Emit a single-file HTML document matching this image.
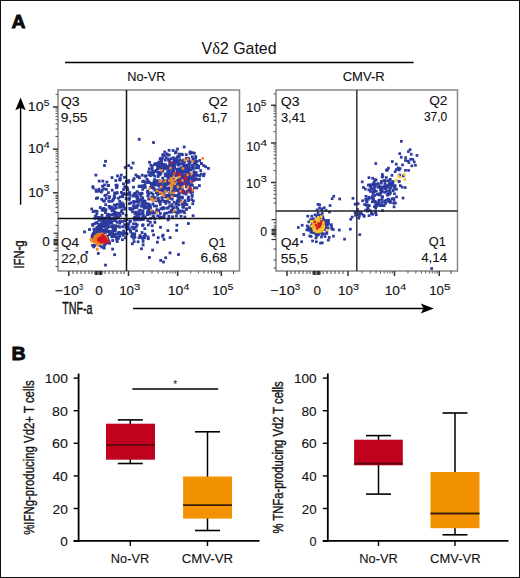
<!DOCTYPE html>
<html><head><meta charset="utf-8"><style>
html,body{margin:0;padding:0;background:#fff;}
body{width:520px;height:578px;overflow:hidden;position:relative;}
#f{position:absolute;left:0;top:0;width:520px;height:578px;box-sizing:border-box;border:1px solid #111;}
svg{position:absolute;left:0;top:0;}
svg text{font-family:"Liberation Sans", sans-serif;fill:#111;}
</style></head><body>
<div id="f"></div>
<svg width="520" height="578" viewBox="0 0 520 578">
<g><rect x="176.6" y="195.3" width="2.8" height="2.8" fill="#2c3a9e"/><rect x="188.7" y="152.0" width="2.8" height="2.8" fill="#2c3a9e"/><rect x="196.5" y="166.1" width="2.8" height="2.8" fill="#2c3a9e"/><rect x="190.4" y="198.2" width="2.8" height="2.8" fill="#2c3a9e"/><rect x="150.8" y="167.4" width="2.8" height="2.8" fill="#2c3a9e"/><rect x="148.9" y="207.8" width="2.8" height="2.8" fill="#2c3a9e"/><rect x="162.2" y="191.2" width="2.8" height="2.8" fill="#2c3a9e"/><rect x="167.0" y="171.5" width="2.8" height="2.8" fill="#2c3a9e"/><rect x="170.9" y="172.0" width="2.8" height="2.8" fill="#2c3a9e"/><rect x="176.4" y="170.9" width="2.8" height="2.8" fill="#2c3a9e"/><rect x="175.6" y="211.7" width="2.8" height="2.8" fill="#2c3a9e"/><rect x="163.9" y="172.9" width="2.8" height="2.8" fill="#2c3a9e"/><rect x="176.9" y="196.5" width="2.8" height="2.8" fill="#2c3a9e"/><rect x="167.7" y="148.9" width="2.8" height="2.8" fill="#2c3a9e"/><rect x="166.3" y="175.7" width="2.8" height="2.8" fill="#2c3a9e"/><rect x="146.4" y="194.6" width="2.8" height="2.8" fill="#2c3a9e"/><rect x="142.0" y="179.7" width="2.8" height="2.8" fill="#2c3a9e"/><rect x="182.0" y="158.7" width="2.8" height="2.8" fill="#2c3a9e"/><rect x="156.2" y="180.9" width="2.8" height="2.8" fill="#2c3a9e"/><rect x="193.0" y="186.4" width="2.8" height="2.8" fill="#2c3a9e"/><rect x="167.4" y="158.9" width="2.8" height="2.8" fill="#2c3a9e"/><rect x="194.4" y="159.6" width="2.8" height="2.8" fill="#2c3a9e"/><rect x="177.8" y="176.8" width="2.8" height="2.8" fill="#2c3a9e"/><rect x="185.9" y="169.3" width="2.8" height="2.8" fill="#2c3a9e"/><rect x="169.9" y="209.0" width="2.8" height="2.8" fill="#2c3a9e"/><rect x="155.5" y="208.2" width="2.8" height="2.8" fill="#2c3a9e"/><rect x="174.5" y="186.3" width="2.8" height="2.8" fill="#2c3a9e"/><rect x="157.6" y="165.0" width="2.8" height="2.8" fill="#2c3a9e"/><rect x="152.4" y="187.0" width="2.8" height="2.8" fill="#2c3a9e"/><rect x="157.0" y="209.5" width="2.8" height="2.8" fill="#2c3a9e"/><rect x="175.0" y="214.6" width="2.8" height="2.8" fill="#2c3a9e"/><rect x="177.6" y="167.5" width="2.8" height="2.8" fill="#2c3a9e"/><rect x="180.7" y="196.2" width="2.8" height="2.8" fill="#2c3a9e"/><rect x="138.7" y="212.3" width="2.8" height="2.8" fill="#2c3a9e"/><rect x="161.8" y="207.5" width="2.8" height="2.8" fill="#2c3a9e"/><rect x="145.8" y="212.6" width="2.8" height="2.8" fill="#2c3a9e"/><rect x="158.8" y="182.7" width="2.8" height="2.8" fill="#2c3a9e"/><rect x="134.3" y="211.0" width="2.8" height="2.8" fill="#2c3a9e"/><rect x="180.3" y="182.1" width="2.8" height="2.8" fill="#2c3a9e"/><rect x="150.6" y="170.4" width="2.8" height="2.8" fill="#2c3a9e"/><rect x="194.2" y="156.8" width="2.8" height="2.8" fill="#2c3a9e"/><rect x="202.2" y="174.3" width="2.8" height="2.8" fill="#2c3a9e"/><rect x="170.8" y="197.8" width="2.8" height="2.8" fill="#2c3a9e"/><rect x="172.2" y="210.2" width="2.8" height="2.8" fill="#2c3a9e"/><rect x="156.7" y="165.7" width="2.8" height="2.8" fill="#2c3a9e"/><rect x="170.4" y="162.0" width="2.8" height="2.8" fill="#2c3a9e"/><rect x="152.4" y="215.3" width="2.8" height="2.8" fill="#2c3a9e"/><rect x="156.4" y="188.3" width="2.8" height="2.8" fill="#2c3a9e"/><rect x="136.4" y="213.6" width="2.8" height="2.8" fill="#2c3a9e"/><rect x="179.2" y="184.6" width="2.8" height="2.8" fill="#2c3a9e"/><rect x="160.9" y="156.5" width="2.8" height="2.8" fill="#2c3a9e"/><rect x="168.5" y="160.9" width="2.8" height="2.8" fill="#2c3a9e"/><rect x="196.4" y="173.9" width="2.8" height="2.8" fill="#2c3a9e"/><rect x="154.1" y="170.1" width="2.8" height="2.8" fill="#2c3a9e"/><rect x="181.3" y="176.1" width="2.8" height="2.8" fill="#2c3a9e"/><rect x="155.0" y="179.5" width="2.8" height="2.8" fill="#2c3a9e"/><rect x="168.1" y="166.6" width="2.8" height="2.8" fill="#2c3a9e"/><rect x="187.8" y="174.3" width="2.8" height="2.8" fill="#2c3a9e"/><rect x="186.8" y="159.4" width="2.8" height="2.8" fill="#2c3a9e"/><rect x="160.1" y="180.3" width="2.8" height="2.8" fill="#2c3a9e"/><rect x="176.9" y="211.5" width="2.8" height="2.8" fill="#2c3a9e"/><rect x="167.6" y="197.1" width="2.8" height="2.8" fill="#2c3a9e"/><rect x="142.5" y="199.5" width="2.8" height="2.8" fill="#2c3a9e"/><rect x="155.7" y="164.0" width="2.8" height="2.8" fill="#2c3a9e"/><rect x="153.8" y="196.2" width="2.8" height="2.8" fill="#2c3a9e"/><rect x="148.3" y="203.4" width="2.8" height="2.8" fill="#2c3a9e"/><rect x="162.2" y="153.9" width="2.8" height="2.8" fill="#2c3a9e"/><rect x="167.8" y="210.7" width="2.8" height="2.8" fill="#2c3a9e"/><rect x="198.3" y="159.1" width="2.8" height="2.8" fill="#2c3a9e"/><rect x="186.0" y="165.0" width="2.8" height="2.8" fill="#2c3a9e"/><rect x="173.1" y="180.6" width="2.8" height="2.8" fill="#2c3a9e"/><rect x="160.7" y="157.4" width="2.8" height="2.8" fill="#2c3a9e"/><rect x="159.5" y="171.1" width="2.8" height="2.8" fill="#2c3a9e"/><rect x="161.0" y="198.5" width="2.8" height="2.8" fill="#2c3a9e"/><rect x="168.2" y="163.3" width="2.8" height="2.8" fill="#2c3a9e"/><rect x="146.7" y="202.4" width="2.8" height="2.8" fill="#2c3a9e"/><rect x="177.0" y="189.7" width="2.8" height="2.8" fill="#2c3a9e"/><rect x="204.3" y="165.4" width="2.8" height="2.8" fill="#2c3a9e"/><rect x="153.2" y="178.3" width="2.8" height="2.8" fill="#2c3a9e"/><rect x="158.5" y="185.0" width="2.8" height="2.8" fill="#2c3a9e"/><rect x="142.8" y="185.0" width="2.8" height="2.8" fill="#2c3a9e"/><rect x="199.8" y="172.7" width="2.8" height="2.8" fill="#2c3a9e"/><rect x="164.9" y="179.8" width="2.8" height="2.8" fill="#2c3a9e"/><rect x="174.2" y="159.7" width="2.8" height="2.8" fill="#2c3a9e"/><rect x="163.9" y="186.6" width="2.8" height="2.8" fill="#2c3a9e"/><rect x="176.8" y="172.3" width="2.8" height="2.8" fill="#2c3a9e"/><rect x="141.3" y="215.7" width="2.8" height="2.8" fill="#2c3a9e"/><rect x="159.5" y="158.5" width="2.8" height="2.8" fill="#2c3a9e"/><rect x="187.7" y="177.0" width="2.8" height="2.8" fill="#2c3a9e"/><rect x="191.8" y="173.5" width="2.8" height="2.8" fill="#2c3a9e"/><rect x="185.0" y="157.0" width="2.8" height="2.8" fill="#2c3a9e"/><rect x="135.7" y="196.5" width="2.8" height="2.8" fill="#2c3a9e"/><rect x="199.9" y="162.0" width="2.8" height="2.8" fill="#2c3a9e"/><rect x="146.8" y="179.5" width="2.8" height="2.8" fill="#2c3a9e"/><rect x="146.5" y="210.9" width="2.8" height="2.8" fill="#2c3a9e"/><rect x="172.0" y="165.1" width="2.8" height="2.8" fill="#2c3a9e"/><rect x="151.4" y="195.6" width="2.8" height="2.8" fill="#2c3a9e"/><rect x="169.7" y="210.8" width="2.8" height="2.8" fill="#2c3a9e"/><rect x="191.5" y="159.3" width="2.8" height="2.8" fill="#2c3a9e"/><rect x="179.2" y="199.9" width="2.8" height="2.8" fill="#2c3a9e"/><rect x="175.5" y="156.5" width="2.8" height="2.8" fill="#2c3a9e"/><rect x="141.9" y="214.1" width="2.8" height="2.8" fill="#2c3a9e"/><rect x="172.6" y="159.7" width="2.8" height="2.8" fill="#2c3a9e"/><rect x="153.7" y="183.5" width="2.8" height="2.8" fill="#2c3a9e"/><rect x="152.0" y="181.9" width="2.8" height="2.8" fill="#2c3a9e"/><rect x="135.6" y="206.1" width="2.8" height="2.8" fill="#2c3a9e"/><rect x="176.7" y="180.6" width="2.8" height="2.8" fill="#2c3a9e"/><rect x="190.4" y="183.4" width="2.8" height="2.8" fill="#2c3a9e"/><rect x="151.7" y="182.6" width="2.8" height="2.8" fill="#2c3a9e"/><rect x="190.4" y="176.1" width="2.8" height="2.8" fill="#2c3a9e"/><rect x="187.9" y="167.2" width="2.8" height="2.8" fill="#2c3a9e"/><rect x="197.2" y="164.8" width="2.8" height="2.8" fill="#2c3a9e"/><rect x="172.5" y="206.2" width="2.8" height="2.8" fill="#2c3a9e"/><rect x="177.7" y="152.7" width="2.8" height="2.8" fill="#2c3a9e"/><rect x="175.3" y="160.0" width="2.8" height="2.8" fill="#2c3a9e"/><rect x="179.5" y="168.6" width="2.8" height="2.8" fill="#2c3a9e"/><rect x="177.2" y="162.8" width="2.8" height="2.8" fill="#2c3a9e"/><rect x="192.5" y="173.5" width="2.8" height="2.8" fill="#2c3a9e"/><rect x="190.9" y="183.8" width="2.8" height="2.8" fill="#2c3a9e"/><rect x="152.8" y="197.5" width="2.8" height="2.8" fill="#2c3a9e"/><rect x="198.0" y="178.0" width="2.8" height="2.8" fill="#2c3a9e"/><rect x="178.7" y="162.7" width="2.8" height="2.8" fill="#2c3a9e"/><rect x="171.7" y="149.1" width="2.8" height="2.8" fill="#2c3a9e"/><rect x="156.9" y="196.6" width="2.8" height="2.8" fill="#2c3a9e"/><rect x="146.8" y="190.8" width="2.8" height="2.8" fill="#2c3a9e"/><rect x="163.1" y="165.9" width="2.8" height="2.8" fill="#2c3a9e"/><rect x="157.0" y="191.3" width="2.8" height="2.8" fill="#2c3a9e"/><rect x="179.6" y="214.9" width="2.8" height="2.8" fill="#2c3a9e"/><rect x="193.0" y="151.8" width="2.8" height="2.8" fill="#2c3a9e"/><rect x="156.7" y="175.1" width="2.8" height="2.8" fill="#2c3a9e"/><rect x="156.3" y="214.4" width="2.8" height="2.8" fill="#2c3a9e"/><rect x="143.8" y="215.9" width="2.8" height="2.8" fill="#2c3a9e"/><rect x="146.4" y="209.8" width="2.8" height="2.8" fill="#2c3a9e"/><rect x="187.7" y="159.9" width="2.8" height="2.8" fill="#2c3a9e"/><rect x="148.1" y="173.2" width="2.8" height="2.8" fill="#2c3a9e"/><rect x="151.1" y="210.9" width="2.8" height="2.8" fill="#2c3a9e"/><rect x="176.2" y="169.7" width="2.8" height="2.8" fill="#2c3a9e"/><rect x="141.6" y="211.4" width="2.8" height="2.8" fill="#2c3a9e"/><rect x="156.6" y="171.7" width="2.8" height="2.8" fill="#2c3a9e"/><rect x="183.5" y="215.6" width="2.8" height="2.8" fill="#2c3a9e"/><rect x="184.8" y="171.4" width="2.8" height="2.8" fill="#2c3a9e"/><rect x="188.7" y="150.5" width="2.8" height="2.8" fill="#2c3a9e"/><rect x="180.5" y="196.8" width="2.8" height="2.8" fill="#2c3a9e"/><rect x="156.3" y="162.2" width="2.8" height="2.8" fill="#2c3a9e"/><rect x="168.1" y="168.3" width="2.8" height="2.8" fill="#2c3a9e"/><rect x="186.5" y="171.0" width="2.8" height="2.8" fill="#2c3a9e"/><rect x="141.3" y="180.2" width="2.8" height="2.8" fill="#2c3a9e"/><rect x="184.3" y="167.2" width="2.8" height="2.8" fill="#2c3a9e"/><rect x="177.9" y="191.0" width="2.8" height="2.8" fill="#2c3a9e"/><rect x="141.4" y="188.0" width="2.8" height="2.8" fill="#2c3a9e"/><rect x="187.2" y="168.1" width="2.8" height="2.8" fill="#2c3a9e"/><rect x="184.3" y="174.3" width="2.8" height="2.8" fill="#2c3a9e"/><rect x="162.2" y="162.9" width="2.8" height="2.8" fill="#2c3a9e"/><rect x="156.9" y="167.0" width="2.8" height="2.8" fill="#2c3a9e"/><rect x="160.2" y="157.7" width="2.8" height="2.8" fill="#2c3a9e"/><rect x="170.0" y="172.4" width="2.8" height="2.8" fill="#2c3a9e"/><rect x="157.6" y="199.1" width="2.8" height="2.8" fill="#2c3a9e"/><rect x="170.4" y="182.8" width="2.8" height="2.8" fill="#2c3a9e"/><rect x="184.3" y="166.1" width="2.8" height="2.8" fill="#2c3a9e"/><rect x="157.1" y="171.6" width="2.8" height="2.8" fill="#2c3a9e"/><rect x="157.6" y="189.9" width="2.8" height="2.8" fill="#2c3a9e"/><rect x="187.4" y="167.4" width="2.8" height="2.8" fill="#2c3a9e"/><rect x="183.6" y="202.3" width="2.8" height="2.8" fill="#2c3a9e"/><rect x="133.9" y="200.5" width="2.8" height="2.8" fill="#2c3a9e"/><rect x="172.6" y="160.7" width="2.8" height="2.8" fill="#2c3a9e"/><rect x="186.6" y="178.7" width="2.8" height="2.8" fill="#2c3a9e"/><rect x="141.8" y="201.2" width="2.8" height="2.8" fill="#2c3a9e"/><rect x="164.5" y="167.0" width="2.8" height="2.8" fill="#2c3a9e"/><rect x="151.7" y="215.1" width="2.8" height="2.8" fill="#2c3a9e"/><rect x="151.6" y="202.5" width="2.8" height="2.8" fill="#2c3a9e"/><rect x="184.2" y="170.2" width="2.8" height="2.8" fill="#2c3a9e"/><rect x="163.0" y="180.6" width="2.8" height="2.8" fill="#2c3a9e"/><rect x="131.1" y="210.4" width="2.8" height="2.8" fill="#2c3a9e"/><rect x="146.3" y="181.1" width="2.8" height="2.8" fill="#2c3a9e"/><rect x="158.1" y="215.3" width="2.8" height="2.8" fill="#2c3a9e"/><rect x="144.8" y="174.4" width="2.8" height="2.8" fill="#2c3a9e"/><rect x="136.6" y="203.6" width="2.8" height="2.8" fill="#2c3a9e"/><rect x="166.9" y="170.1" width="2.8" height="2.8" fill="#2c3a9e"/><rect x="140.7" y="192.1" width="2.8" height="2.8" fill="#2c3a9e"/><rect x="195.4" y="186.5" width="2.8" height="2.8" fill="#2c3a9e"/><rect x="165.3" y="152.5" width="2.8" height="2.8" fill="#2c3a9e"/><rect x="149.2" y="186.1" width="2.8" height="2.8" fill="#2c3a9e"/><rect x="167.9" y="153.7" width="2.8" height="2.8" fill="#2c3a9e"/><rect x="176.9" y="209.2" width="2.8" height="2.8" fill="#2c3a9e"/><rect x="169.5" y="178.2" width="2.8" height="2.8" fill="#2c3a9e"/><rect x="158.2" y="200.7" width="2.8" height="2.8" fill="#2c3a9e"/><rect x="137.5" y="209.4" width="2.8" height="2.8" fill="#2c3a9e"/><rect x="135.7" y="199.1" width="2.8" height="2.8" fill="#2c3a9e"/><rect x="145.1" y="206.4" width="2.8" height="2.8" fill="#2c3a9e"/><rect x="167.1" y="176.4" width="2.8" height="2.8" fill="#2c3a9e"/><rect x="166.4" y="170.3" width="2.8" height="2.8" fill="#2c3a9e"/><rect x="151.8" y="170.1" width="2.8" height="2.8" fill="#2c3a9e"/><rect x="131.9" y="204.8" width="2.8" height="2.8" fill="#2c3a9e"/><rect x="145.5" y="177.8" width="2.8" height="2.8" fill="#2c3a9e"/><rect x="163.8" y="189.1" width="2.8" height="2.8" fill="#2c3a9e"/><rect x="197.1" y="166.4" width="2.8" height="2.8" fill="#2c3a9e"/><rect x="187.5" y="172.4" width="2.8" height="2.8" fill="#2c3a9e"/><rect x="187.5" y="181.2" width="2.8" height="2.8" fill="#2c3a9e"/><rect x="183.2" y="191.3" width="2.8" height="2.8" fill="#2c3a9e"/><rect x="194.6" y="177.4" width="2.8" height="2.8" fill="#2c3a9e"/><rect x="181.1" y="188.2" width="2.8" height="2.8" fill="#2c3a9e"/><rect x="150.7" y="165.0" width="2.8" height="2.8" fill="#2c3a9e"/><rect x="140.0" y="185.1" width="2.8" height="2.8" fill="#2c3a9e"/><rect x="187.1" y="198.6" width="2.8" height="2.8" fill="#2c3a9e"/><rect x="174.3" y="183.5" width="2.8" height="2.8" fill="#2c3a9e"/><rect x="153.0" y="163.2" width="2.8" height="2.8" fill="#2c3a9e"/><rect x="139.0" y="208.8" width="2.8" height="2.8" fill="#2c3a9e"/><rect x="167.8" y="194.0" width="2.8" height="2.8" fill="#2c3a9e"/><rect x="172.6" y="185.8" width="2.8" height="2.8" fill="#2c3a9e"/><rect x="149.2" y="216.9" width="2.8" height="2.8" fill="#2c3a9e"/><rect x="190.7" y="194.9" width="2.8" height="2.8" fill="#2c3a9e"/><rect x="182.8" y="191.8" width="2.8" height="2.8" fill="#2c3a9e"/><rect x="178.1" y="174.7" width="2.8" height="2.8" fill="#2c3a9e"/><rect x="161.3" y="188.0" width="2.8" height="2.8" fill="#2c3a9e"/><rect x="159.8" y="216.0" width="2.8" height="2.8" fill="#2c3a9e"/><rect x="182.0" y="209.8" width="2.8" height="2.8" fill="#2c3a9e"/><rect x="153.4" y="217.5" width="2.8" height="2.8" fill="#2c3a9e"/><rect x="143.3" y="205.2" width="2.8" height="2.8" fill="#2c3a9e"/><rect x="170.7" y="180.7" width="2.8" height="2.8" fill="#2c3a9e"/><rect x="184.8" y="181.0" width="2.8" height="2.8" fill="#2c3a9e"/><rect x="164.1" y="166.9" width="2.8" height="2.8" fill="#2c3a9e"/><rect x="159.3" y="182.7" width="2.8" height="2.8" fill="#2c3a9e"/><rect x="168.5" y="165.2" width="2.8" height="2.8" fill="#2c3a9e"/><rect x="171.6" y="167.9" width="2.8" height="2.8" fill="#2c3a9e"/><rect x="171.2" y="187.9" width="2.8" height="2.8" fill="#2c3a9e"/><rect x="162.8" y="214.0" width="2.8" height="2.8" fill="#2c3a9e"/><rect x="177.1" y="163.6" width="2.8" height="2.8" fill="#2c3a9e"/><rect x="170.7" y="203.2" width="2.8" height="2.8" fill="#2c3a9e"/><rect x="174.1" y="174.5" width="2.8" height="2.8" fill="#2c3a9e"/><rect x="144.4" y="205.7" width="2.8" height="2.8" fill="#2c3a9e"/><rect x="142.2" y="215.4" width="2.8" height="2.8" fill="#2c3a9e"/><rect x="142.4" y="216.9" width="2.8" height="2.8" fill="#2c3a9e"/><rect x="162.9" y="153.8" width="2.8" height="2.8" fill="#2c3a9e"/><rect x="186.6" y="156.9" width="2.8" height="2.8" fill="#2c3a9e"/><rect x="170.9" y="168.0" width="2.8" height="2.8" fill="#2c3a9e"/><rect x="191.2" y="190.4" width="2.8" height="2.8" fill="#2c3a9e"/><rect x="163.9" y="183.4" width="2.8" height="2.8" fill="#2c3a9e"/><rect x="176.2" y="155.3" width="2.8" height="2.8" fill="#2c3a9e"/><rect x="180.8" y="202.9" width="2.8" height="2.8" fill="#2c3a9e"/><rect x="177.9" y="155.2" width="2.8" height="2.8" fill="#2c3a9e"/><rect x="159.1" y="164.4" width="2.8" height="2.8" fill="#2c3a9e"/><rect x="171.3" y="207.6" width="2.8" height="2.8" fill="#2c3a9e"/><rect x="158.3" y="216.6" width="2.8" height="2.8" fill="#2c3a9e"/><rect x="157.0" y="183.7" width="2.8" height="2.8" fill="#2c3a9e"/><rect x="163.9" y="173.0" width="2.8" height="2.8" fill="#2c3a9e"/><rect x="187.0" y="179.2" width="2.8" height="2.8" fill="#2c3a9e"/><rect x="166.9" y="157.7" width="2.8" height="2.8" fill="#2c3a9e"/><rect x="153.6" y="183.3" width="2.8" height="2.8" fill="#2c3a9e"/><rect x="192.7" y="162.1" width="2.8" height="2.8" fill="#2c3a9e"/><rect x="194.2" y="174.0" width="2.8" height="2.8" fill="#2c3a9e"/><rect x="162.4" y="181.2" width="2.8" height="2.8" fill="#2c3a9e"/><rect x="183.6" y="199.3" width="2.8" height="2.8" fill="#2c3a9e"/><rect x="173.0" y="194.3" width="2.8" height="2.8" fill="#2c3a9e"/><rect x="171.2" y="215.4" width="2.8" height="2.8" fill="#2c3a9e"/><rect x="179.8" y="179.2" width="2.8" height="2.8" fill="#2c3a9e"/><rect x="173.3" y="166.4" width="2.8" height="2.8" fill="#2c3a9e"/><rect x="160.3" y="185.7" width="2.8" height="2.8" fill="#2c3a9e"/><rect x="150.0" y="191.5" width="2.8" height="2.8" fill="#2c3a9e"/><rect x="150.0" y="184.1" width="2.8" height="2.8" fill="#2c3a9e"/><rect x="161.1" y="206.6" width="2.8" height="2.8" fill="#2c3a9e"/><rect x="154.8" y="210.1" width="2.8" height="2.8" fill="#2c3a9e"/><rect x="156.3" y="162.7" width="2.8" height="2.8" fill="#2c3a9e"/><rect x="173.1" y="157.8" width="2.8" height="2.8" fill="#2c3a9e"/><rect x="202.4" y="164.2" width="2.8" height="2.8" fill="#2c3a9e"/><rect x="148.0" y="167.5" width="2.8" height="2.8" fill="#2c3a9e"/><rect x="166.1" y="199.8" width="2.8" height="2.8" fill="#2c3a9e"/><rect x="181.4" y="205.5" width="2.8" height="2.8" fill="#2c3a9e"/><rect x="151.6" y="211.8" width="2.8" height="2.8" fill="#2c3a9e"/><rect x="166.2" y="153.4" width="2.8" height="2.8" fill="#2c3a9e"/><rect x="160.2" y="162.1" width="2.8" height="2.8" fill="#2c3a9e"/><rect x="164.5" y="201.9" width="2.8" height="2.8" fill="#2c3a9e"/><rect x="188.0" y="188.7" width="2.8" height="2.8" fill="#2c3a9e"/><rect x="163.2" y="185.3" width="2.8" height="2.8" fill="#2c3a9e"/><rect x="156.5" y="199.1" width="2.8" height="2.8" fill="#2c3a9e"/><rect x="170.3" y="193.7" width="2.8" height="2.8" fill="#2c3a9e"/><rect x="183.1" y="159.7" width="2.8" height="2.8" fill="#2c3a9e"/><rect x="188.2" y="206.2" width="2.8" height="2.8" fill="#2c3a9e"/><rect x="185.2" y="207.4" width="2.8" height="2.8" fill="#2c3a9e"/><rect x="162.2" y="215.7" width="2.8" height="2.8" fill="#2c3a9e"/><rect x="146.3" y="191.2" width="2.8" height="2.8" fill="#2c3a9e"/><rect x="178.1" y="187.4" width="2.8" height="2.8" fill="#2c3a9e"/><rect x="156.7" y="209.0" width="2.8" height="2.8" fill="#2c3a9e"/><rect x="177.6" y="193.6" width="2.8" height="2.8" fill="#2c3a9e"/><rect x="147.3" y="197.6" width="2.8" height="2.8" fill="#2c3a9e"/><rect x="164.7" y="156.2" width="2.8" height="2.8" fill="#2c3a9e"/><rect x="168.6" y="192.0" width="2.8" height="2.8" fill="#2c3a9e"/><rect x="177.1" y="172.1" width="2.8" height="2.8" fill="#2c3a9e"/><rect x="149.7" y="182.0" width="2.8" height="2.8" fill="#2c3a9e"/><rect x="147.1" y="204.8" width="2.8" height="2.8" fill="#2c3a9e"/><rect x="183.4" y="168.6" width="2.8" height="2.8" fill="#2c3a9e"/><rect x="142.2" y="184.4" width="2.8" height="2.8" fill="#2c3a9e"/><rect x="188.1" y="175.8" width="2.8" height="2.8" fill="#2c3a9e"/><rect x="165.6" y="206.8" width="2.8" height="2.8" fill="#2c3a9e"/><rect x="179.1" y="210.6" width="2.8" height="2.8" fill="#2c3a9e"/><rect x="188.0" y="188.3" width="2.8" height="2.8" fill="#2c3a9e"/><rect x="186.6" y="172.4" width="2.8" height="2.8" fill="#2c3a9e"/><rect x="154.1" y="162.3" width="2.8" height="2.8" fill="#2c3a9e"/><rect x="161.6" y="169.5" width="2.8" height="2.8" fill="#2c3a9e"/><rect x="165.7" y="211.7" width="2.8" height="2.8" fill="#2c3a9e"/><rect x="161.9" y="206.5" width="2.8" height="2.8" fill="#2c3a9e"/><rect x="177.8" y="197.0" width="2.8" height="2.8" fill="#2c3a9e"/><rect x="140.5" y="202.4" width="2.8" height="2.8" fill="#2c3a9e"/><rect x="149.3" y="197.5" width="2.8" height="2.8" fill="#2c3a9e"/><rect x="163.3" y="150.6" width="2.8" height="2.8" fill="#2c3a9e"/><rect x="148.2" y="204.9" width="2.8" height="2.8" fill="#2c3a9e"/><rect x="190.0" y="183.6" width="2.8" height="2.8" fill="#2c3a9e"/><rect x="141.3" y="196.5" width="2.8" height="2.8" fill="#2c3a9e"/><rect x="176.0" y="202.3" width="2.8" height="2.8" fill="#2c3a9e"/><rect x="159.1" y="192.1" width="2.8" height="2.8" fill="#2c3a9e"/><rect x="160.0" y="159.4" width="2.8" height="2.8" fill="#2c3a9e"/><rect x="191.9" y="199.5" width="2.8" height="2.8" fill="#2c3a9e"/><rect x="180.1" y="152.8" width="2.8" height="2.8" fill="#2c3a9e"/><rect x="179.7" y="195.8" width="2.8" height="2.8" fill="#2c3a9e"/><rect x="174.6" y="203.0" width="2.8" height="2.8" fill="#2c3a9e"/><rect x="188.4" y="173.3" width="2.8" height="2.8" fill="#2c3a9e"/><rect x="143.7" y="174.8" width="2.8" height="2.8" fill="#2c3a9e"/><rect x="175.6" y="201.7" width="2.8" height="2.8" fill="#2c3a9e"/><rect x="179.9" y="209.6" width="2.8" height="2.8" fill="#2c3a9e"/><rect x="180.9" y="195.7" width="2.8" height="2.8" fill="#2c3a9e"/><rect x="172.2" y="166.7" width="2.8" height="2.8" fill="#2c3a9e"/><rect x="167.6" y="182.0" width="2.8" height="2.8" fill="#2c3a9e"/><rect x="182.1" y="205.9" width="2.8" height="2.8" fill="#2c3a9e"/><rect x="187.0" y="198.9" width="2.8" height="2.8" fill="#2c3a9e"/><rect x="137.2" y="198.7" width="2.8" height="2.8" fill="#2c3a9e"/><rect x="150.9" y="183.9" width="2.8" height="2.8" fill="#2c3a9e"/><rect x="181.0" y="153.3" width="2.8" height="2.8" fill="#2c3a9e"/><rect x="158.9" y="203.0" width="2.8" height="2.8" fill="#2c3a9e"/><rect x="189.6" y="189.8" width="2.8" height="2.8" fill="#2c3a9e"/><rect x="146.2" y="189.7" width="2.8" height="2.8" fill="#2c3a9e"/><rect x="181.5" y="170.0" width="2.8" height="2.8" fill="#2c3a9e"/><rect x="143.6" y="183.3" width="2.8" height="2.8" fill="#2c3a9e"/><rect x="148.0" y="181.2" width="2.8" height="2.8" fill="#2c3a9e"/><rect x="148.1" y="160.9" width="2.8" height="2.8" fill="#2c3a9e"/><rect x="182.8" y="145.6" width="2.8" height="2.8" fill="#2c3a9e"/><rect x="191.8" y="157.9" width="2.8" height="2.8" fill="#2c3a9e"/><rect x="136.0" y="212.2" width="2.8" height="2.8" fill="#2c3a9e"/><rect x="167.9" y="200.9" width="2.8" height="2.8" fill="#2c3a9e"/><rect x="170.6" y="179.1" width="2.8" height="2.8" fill="#2c3a9e"/><rect x="148.5" y="212.6" width="2.8" height="2.8" fill="#2c3a9e"/><rect x="187.8" y="184.3" width="2.8" height="2.8" fill="#2c3a9e"/><rect x="175.2" y="194.1" width="2.8" height="2.8" fill="#2c3a9e"/><rect x="151.6" y="173.5" width="2.8" height="2.8" fill="#2c3a9e"/><rect x="163.0" y="193.7" width="2.8" height="2.8" fill="#2c3a9e"/><rect x="150.0" y="171.3" width="2.8" height="2.8" fill="#2c3a9e"/><rect x="187.2" y="164.3" width="2.8" height="2.8" fill="#2c3a9e"/><rect x="177.5" y="199.3" width="2.8" height="2.8" fill="#2c3a9e"/><rect x="185.8" y="169.0" width="2.8" height="2.8" fill="#2c3a9e"/><rect x="156.9" y="189.7" width="2.8" height="2.8" fill="#2c3a9e"/><rect x="184.6" y="164.4" width="2.8" height="2.8" fill="#2c3a9e"/><rect x="182.5" y="203.9" width="2.8" height="2.8" fill="#2c3a9e"/><rect x="157.6" y="173.6" width="2.8" height="2.8" fill="#2c3a9e"/><rect x="183.7" y="201.1" width="2.8" height="2.8" fill="#2c3a9e"/><rect x="143.0" y="202.5" width="2.8" height="2.8" fill="#2c3a9e"/><rect x="185.1" y="170.7" width="2.8" height="2.8" fill="#2c3a9e"/><rect x="148.9" y="210.8" width="2.8" height="2.8" fill="#2c3a9e"/><rect x="164.1" y="174.5" width="2.8" height="2.8" fill="#2c3a9e"/><rect x="162.4" y="215.3" width="2.8" height="2.8" fill="#2c3a9e"/><rect x="149.6" y="196.3" width="2.8" height="2.8" fill="#2c3a9e"/><rect x="151.0" y="210.1" width="2.8" height="2.8" fill="#2c3a9e"/><rect x="144.2" y="202.2" width="2.8" height="2.8" fill="#2c3a9e"/><rect x="131.6" y="207.6" width="2.8" height="2.8" fill="#2c3a9e"/><rect x="185.7" y="189.6" width="2.8" height="2.8" fill="#2c3a9e"/><rect x="167.1" y="171.3" width="2.8" height="2.8" fill="#2c3a9e"/><rect x="136.6" y="203.8" width="2.8" height="2.8" fill="#2c3a9e"/><rect x="164.5" y="172.6" width="2.8" height="2.8" fill="#2c3a9e"/><rect x="191.0" y="151.3" width="2.8" height="2.8" fill="#2c3a9e"/><rect x="174.2" y="194.0" width="2.8" height="2.8" fill="#2c3a9e"/><rect x="156.1" y="167.4" width="2.8" height="2.8" fill="#2c3a9e"/><rect x="164.2" y="199.9" width="2.8" height="2.8" fill="#2c3a9e"/><rect x="162.9" y="199.8" width="2.8" height="2.8" fill="#2c3a9e"/><rect x="152.2" y="186.5" width="2.8" height="2.8" fill="#2c3a9e"/><rect x="158.0" y="173.0" width="2.8" height="2.8" fill="#2c3a9e"/><rect x="138.9" y="212.8" width="2.8" height="2.8" fill="#2c3a9e"/><rect x="133.2" y="215.7" width="2.8" height="2.8" fill="#2c3a9e"/><rect x="172.0" y="156.4" width="2.8" height="2.8" fill="#2c3a9e"/><rect x="173.0" y="165.6" width="2.8" height="2.8" fill="#2c3a9e"/><rect x="178.4" y="158.3" width="2.8" height="2.8" fill="#2c3a9e"/><rect x="172.3" y="189.5" width="2.8" height="2.8" fill="#2c3a9e"/><rect x="186.8" y="166.0" width="2.8" height="2.8" fill="#2c3a9e"/><rect x="173.7" y="163.0" width="2.8" height="2.8" fill="#2c3a9e"/><rect x="170.6" y="169.6" width="2.8" height="2.8" fill="#2c3a9e"/><rect x="142.5" y="205.5" width="2.8" height="2.8" fill="#2c3a9e"/><rect x="165.9" y="182.2" width="2.8" height="2.8" fill="#2c3a9e"/><rect x="139.9" y="191.8" width="2.8" height="2.8" fill="#2c3a9e"/><rect x="176.1" y="147.6" width="2.8" height="2.8" fill="#2c3a9e"/><rect x="192.0" y="167.1" width="2.8" height="2.8" fill="#2c3a9e"/><rect x="137.4" y="216.1" width="2.8" height="2.8" fill="#2c3a9e"/><rect x="158.8" y="157.2" width="2.8" height="2.8" fill="#2c3a9e"/><rect x="148.2" y="204.7" width="2.8" height="2.8" fill="#2c3a9e"/><rect x="156.4" y="179.7" width="2.8" height="2.8" fill="#2c3a9e"/><rect x="169.9" y="157.3" width="2.8" height="2.8" fill="#2c3a9e"/><rect x="181.5" y="182.1" width="2.8" height="2.8" fill="#2c3a9e"/><rect x="135.2" y="213.8" width="2.8" height="2.8" fill="#2c3a9e"/><rect x="192.0" y="174.9" width="2.8" height="2.8" fill="#2c3a9e"/><rect x="140.5" y="184.5" width="2.8" height="2.8" fill="#2c3a9e"/><rect x="194.5" y="161.6" width="2.8" height="2.8" fill="#2c3a9e"/><rect x="153.2" y="182.2" width="2.8" height="2.8" fill="#2c3a9e"/><rect x="164.2" y="163.4" width="2.8" height="2.8" fill="#2c3a9e"/><rect x="161.6" y="206.7" width="2.8" height="2.8" fill="#2c3a9e"/><rect x="154.9" y="191.2" width="2.8" height="2.8" fill="#2c3a9e"/><rect x="186.7" y="197.0" width="2.8" height="2.8" fill="#2c3a9e"/><rect x="135.9" y="200.2" width="2.8" height="2.8" fill="#2c3a9e"/><rect x="191.3" y="202.4" width="2.8" height="2.8" fill="#2c3a9e"/><rect x="151.5" y="182.9" width="2.8" height="2.8" fill="#2c3a9e"/><rect x="139.6" y="198.2" width="2.8" height="2.8" fill="#2c3a9e"/><rect x="163.1" y="165.6" width="2.8" height="2.8" fill="#2c3a9e"/><rect x="167.2" y="195.2" width="2.8" height="2.8" fill="#2c3a9e"/><rect x="143.9" y="186.0" width="2.8" height="2.8" fill="#2c3a9e"/><rect x="163.8" y="158.8" width="2.8" height="2.8" fill="#2c3a9e"/><rect x="155.1" y="204.7" width="2.8" height="2.8" fill="#2c3a9e"/><rect x="149.1" y="174.2" width="2.8" height="2.8" fill="#2c3a9e"/><rect x="153.1" y="211.6" width="2.8" height="2.8" fill="#2c3a9e"/><rect x="147.1" y="170.5" width="2.8" height="2.8" fill="#2c3a9e"/><rect x="159.0" y="212.1" width="2.8" height="2.8" fill="#2c3a9e"/><rect x="187.0" y="198.6" width="2.8" height="2.8" fill="#2c3a9e"/><rect x="159.1" y="199.9" width="2.8" height="2.8" fill="#2c3a9e"/><rect x="151.4" y="196.8" width="2.8" height="2.8" fill="#2c3a9e"/><rect x="185.5" y="203.2" width="2.8" height="2.8" fill="#2c3a9e"/><rect x="146.8" y="203.5" width="2.8" height="2.8" fill="#2c3a9e"/><rect x="137.8" y="200.7" width="2.8" height="2.8" fill="#2c3a9e"/><rect x="174.8" y="150.3" width="2.8" height="2.8" fill="#2c3a9e"/><rect x="138.3" y="192.5" width="2.8" height="2.8" fill="#2c3a9e"/><rect x="183.6" y="164.6" width="2.8" height="2.8" fill="#2c3a9e"/><rect x="182.3" y="203.5" width="2.8" height="2.8" fill="#2c3a9e"/><rect x="200.1" y="162.4" width="2.8" height="2.8" fill="#2c3a9e"/><rect x="172.1" y="170.5" width="2.8" height="2.8" fill="#2c3a9e"/><rect x="163.3" y="212.0" width="2.8" height="2.8" fill="#2c3a9e"/><rect x="171.7" y="174.0" width="2.8" height="2.8" fill="#2c3a9e"/><rect x="180.9" y="167.4" width="2.8" height="2.8" fill="#2c3a9e"/><rect x="159.5" y="166.9" width="2.8" height="2.8" fill="#2c3a9e"/><rect x="189.3" y="177.5" width="2.8" height="2.8" fill="#2c3a9e"/><rect x="156.4" y="183.5" width="2.8" height="2.8" fill="#2c3a9e"/><rect x="159.1" y="162.5" width="2.8" height="2.8" fill="#2c3a9e"/><rect x="187.1" y="184.2" width="2.8" height="2.8" fill="#2c3a9e"/><rect x="164.3" y="195.6" width="2.8" height="2.8" fill="#2c3a9e"/><rect x="162.5" y="200.0" width="2.8" height="2.8" fill="#2c3a9e"/><rect x="157.5" y="209.3" width="2.8" height="2.8" fill="#2c3a9e"/><rect x="161.2" y="164.7" width="2.8" height="2.8" fill="#2c3a9e"/><rect x="186.9" y="157.2" width="2.8" height="2.8" fill="#2c3a9e"/><rect x="190.8" y="193.7" width="2.8" height="2.8" fill="#2c3a9e"/><rect x="148.8" y="204.5" width="2.8" height="2.8" fill="#2c3a9e"/><rect x="150.9" y="186.2" width="2.8" height="2.8" fill="#2c3a9e"/><rect x="187.5" y="157.5" width="2.8" height="2.8" fill="#2c3a9e"/><rect x="141.5" y="209.7" width="2.8" height="2.8" fill="#2c3a9e"/><rect x="182.4" y="167.6" width="2.8" height="2.8" fill="#2c3a9e"/><rect x="187.1" y="195.7" width="2.8" height="2.8" fill="#2c3a9e"/><rect x="177.5" y="192.9" width="2.8" height="2.8" fill="#2c3a9e"/><rect x="172.8" y="200.8" width="2.8" height="2.8" fill="#2c3a9e"/><rect x="154.5" y="199.4" width="2.8" height="2.8" fill="#2c3a9e"/><rect x="175.4" y="206.0" width="2.8" height="2.8" fill="#2c3a9e"/><rect x="173.8" y="210.4" width="2.8" height="2.8" fill="#2c3a9e"/><rect x="183.1" y="211.3" width="2.8" height="2.8" fill="#2c3a9e"/><rect x="142.8" y="215.3" width="2.8" height="2.8" fill="#2c3a9e"/><rect x="149.5" y="163.8" width="2.8" height="2.8" fill="#2c3a9e"/><rect x="175.0" y="157.8" width="2.8" height="2.8" fill="#2c3a9e"/><rect x="168.3" y="204.4" width="2.8" height="2.8" fill="#2c3a9e"/><rect x="174.7" y="161.5" width="2.8" height="2.8" fill="#2c3a9e"/><rect x="182.8" y="164.3" width="2.8" height="2.8" fill="#2c3a9e"/><rect x="153.5" y="221.0" width="2.8" height="2.8" fill="#2c3a9e"/><rect x="152.8" y="204.6" width="2.8" height="2.8" fill="#2c3a9e"/><rect x="170.6" y="165.1" width="2.8" height="2.8" fill="#2c3a9e"/><rect x="142.8" y="206.9" width="2.8" height="2.8" fill="#2c3a9e"/><rect x="132.2" y="200.1" width="2.8" height="2.8" fill="#2c3a9e"/><rect x="161.4" y="167.2" width="2.8" height="2.8" fill="#2c3a9e"/><rect x="146.2" y="212.4" width="2.8" height="2.8" fill="#2c3a9e"/><rect x="177.5" y="203.4" width="2.8" height="2.8" fill="#2c3a9e"/><rect x="152.0" y="171.9" width="2.8" height="2.8" fill="#2c3a9e"/><rect x="153.4" y="174.8" width="2.8" height="2.8" fill="#2c3a9e"/><rect x="153.2" y="180.8" width="2.8" height="2.8" fill="#2c3a9e"/><rect x="190.3" y="165.9" width="2.8" height="2.8" fill="#2c3a9e"/><rect x="170.4" y="204.9" width="2.8" height="2.8" fill="#2c3a9e"/><rect x="176.0" y="199.3" width="2.8" height="2.8" fill="#2c3a9e"/><rect x="134.6" y="210.8" width="2.8" height="2.8" fill="#2c3a9e"/><rect x="173.3" y="162.6" width="2.8" height="2.8" fill="#2c3a9e"/><rect x="177.9" y="181.3" width="2.8" height="2.8" fill="#2c3a9e"/><rect x="168.1" y="159.7" width="2.8" height="2.8" fill="#2c3a9e"/><rect x="136.9" y="215.5" width="2.8" height="2.8" fill="#2c3a9e"/><rect x="182.0" y="176.4" width="2.8" height="2.8" fill="#2c3a9e"/><rect x="191.6" y="164.6" width="2.8" height="2.8" fill="#2c3a9e"/><rect x="162.8" y="206.6" width="2.8" height="2.8" fill="#2c3a9e"/><rect x="140.8" y="211.7" width="2.8" height="2.8" fill="#2c3a9e"/><rect x="194.7" y="166.5" width="2.8" height="2.8" fill="#2c3a9e"/><rect x="146.1" y="213.2" width="2.8" height="2.8" fill="#2c3a9e"/><rect x="158.8" y="173.0" width="2.8" height="2.8" fill="#2c3a9e"/><rect x="167.0" y="174.1" width="2.8" height="2.8" fill="#2c3a9e"/><rect x="162.0" y="188.9" width="2.8" height="2.8" fill="#2c3a9e"/><rect x="183.6" y="165.0" width="2.8" height="2.8" fill="#2c3a9e"/><rect x="166.8" y="164.9" width="2.8" height="2.8" fill="#2c3a9e"/><rect x="196.1" y="164.4" width="2.8" height="2.8" fill="#2c3a9e"/><rect x="149.0" y="206.0" width="2.8" height="2.8" fill="#2c3a9e"/><rect x="166.9" y="179.1" width="2.8" height="2.8" fill="#2c3a9e"/><rect x="134.3" y="194.9" width="2.8" height="2.8" fill="#2c3a9e"/><rect x="172.9" y="188.7" width="2.8" height="2.8" fill="#2c3a9e"/><rect x="167.5" y="215.0" width="2.8" height="2.8" fill="#2c3a9e"/><rect x="166.9" y="206.4" width="2.8" height="2.8" fill="#2c3a9e"/><rect x="161.4" y="153.3" width="2.8" height="2.8" fill="#2c3a9e"/><rect x="136.6" y="197.9" width="2.8" height="2.8" fill="#2c3a9e"/><rect x="159.2" y="181.4" width="2.8" height="2.8" fill="#2c3a9e"/><rect x="176.5" y="207.4" width="2.8" height="2.8" fill="#2c3a9e"/><rect x="185.0" y="208.1" width="2.8" height="2.8" fill="#2c3a9e"/><rect x="180.4" y="162.3" width="2.8" height="2.8" fill="#2c3a9e"/><rect x="185.9" y="172.5" width="2.8" height="2.8" fill="#2c3a9e"/><rect x="186.7" y="185.3" width="2.8" height="2.8" fill="#2c3a9e"/><rect x="163.7" y="194.0" width="2.8" height="2.8" fill="#2c3a9e"/><rect x="169.2" y="177.3" width="2.8" height="2.8" fill="#2c3a9e"/><rect x="189.4" y="191.1" width="2.8" height="2.8" fill="#2c3a9e"/><rect x="195.2" y="163.8" width="2.8" height="2.8" fill="#2c3a9e"/><rect x="176.1" y="169.6" width="2.8" height="2.8" fill="#2c3a9e"/><rect x="176.9" y="180.2" width="2.8" height="2.8" fill="#2c3a9e"/><rect x="192.8" y="173.0" width="2.8" height="2.8" fill="#2c3a9e"/><rect x="164.1" y="165.3" width="2.8" height="2.8" fill="#2c3a9e"/><rect x="166.9" y="167.0" width="2.8" height="2.8" fill="#2c3a9e"/><rect x="177.8" y="176.1" width="2.8" height="2.8" fill="#2c3a9e"/><rect x="152.7" y="179.7" width="2.8" height="2.8" fill="#2c3a9e"/><rect x="177.2" y="159.3" width="2.8" height="2.8" fill="#2c3a9e"/><rect x="185.2" y="179.6" width="2.8" height="2.8" fill="#2c3a9e"/><rect x="157.4" y="160.7" width="2.8" height="2.8" fill="#2c3a9e"/><rect x="168.6" y="191.4" width="2.8" height="2.8" fill="#2c3a9e"/><rect x="178.4" y="175.7" width="2.8" height="2.8" fill="#2c3a9e"/><rect x="194.8" y="171.2" width="2.8" height="2.8" fill="#2c3a9e"/><rect x="168.0" y="180.6" width="2.8" height="2.8" fill="#2c3a9e"/><rect x="171.4" y="193.2" width="2.8" height="2.8" fill="#2c3a9e"/><rect x="179.1" y="172.3" width="2.8" height="2.8" fill="#2c3a9e"/><rect x="153.0" y="182.1" width="2.8" height="2.8" fill="#2c3a9e"/><rect x="151.6" y="192.9" width="2.8" height="2.8" fill="#2c3a9e"/><rect x="171.9" y="181.2" width="2.8" height="2.8" fill="#2c3a9e"/><rect x="159.5" y="171.5" width="2.8" height="2.8" fill="#2c3a9e"/><rect x="177.0" y="183.9" width="2.8" height="2.8" fill="#2c3a9e"/><rect x="164.1" y="174.1" width="2.8" height="2.8" fill="#2c3a9e"/><rect x="179.8" y="175.0" width="2.8" height="2.8" fill="#2c3a9e"/><rect x="171.5" y="176.2" width="2.8" height="2.8" fill="#2c3a9e"/><rect x="168.7" y="180.6" width="2.8" height="2.8" fill="#2c3a9e"/><rect x="169.6" y="178.8" width="2.8" height="2.8" fill="#2c3a9e"/><rect x="181.5" y="170.9" width="2.8" height="2.8" fill="#2c3a9e"/><rect x="188.7" y="172.9" width="2.8" height="2.8" fill="#2c3a9e"/><rect x="187.0" y="171.9" width="2.8" height="2.8" fill="#2c3a9e"/><rect x="179.4" y="167.1" width="2.8" height="2.8" fill="#2c3a9e"/><rect x="142.7" y="204.1" width="2.8" height="2.8" fill="#2c3a9e"/><rect x="171.3" y="191.7" width="2.8" height="2.8" fill="#2c3a9e"/><rect x="175.6" y="183.0" width="2.8" height="2.8" fill="#2c3a9e"/><rect x="180.8" y="178.6" width="2.8" height="2.8" fill="#2c3a9e"/><rect x="159.1" y="189.7" width="2.8" height="2.8" fill="#2c3a9e"/><rect x="188.1" y="162.8" width="2.8" height="2.8" fill="#2c3a9e"/><rect x="177.5" y="172.7" width="2.8" height="2.8" fill="#2c3a9e"/><rect x="172.3" y="185.3" width="2.8" height="2.8" fill="#2c3a9e"/><rect x="176.5" y="174.3" width="2.8" height="2.8" fill="#2c3a9e"/><rect x="179.0" y="187.6" width="2.8" height="2.8" fill="#2c3a9e"/><rect x="183.2" y="201.0" width="2.8" height="2.8" fill="#2c3a9e"/><rect x="180.3" y="172.0" width="2.8" height="2.8" fill="#2c3a9e"/><rect x="179.5" y="190.4" width="2.8" height="2.8" fill="#2c3a9e"/><rect x="166.1" y="193.8" width="2.8" height="2.8" fill="#2c3a9e"/><rect x="175.3" y="189.0" width="2.8" height="2.8" fill="#2c3a9e"/><rect x="170.4" y="172.7" width="2.8" height="2.8" fill="#2c3a9e"/><rect x="170.9" y="192.8" width="2.8" height="2.8" fill="#2c3a9e"/><rect x="186.1" y="163.5" width="2.8" height="2.8" fill="#2c3a9e"/><rect x="166.8" y="188.2" width="2.8" height="2.8" fill="#2c3a9e"/><rect x="199.3" y="169.2" width="2.8" height="2.8" fill="#2c3a9e"/><rect x="192.5" y="178.7" width="2.8" height="2.8" fill="#2c3a9e"/><rect x="163.1" y="180.7" width="2.8" height="2.8" fill="#2c3a9e"/><rect x="174.2" y="172.3" width="2.8" height="2.8" fill="#2c3a9e"/><rect x="182.6" y="161.0" width="2.8" height="2.8" fill="#2c3a9e"/><rect x="163.2" y="165.6" width="2.8" height="2.8" fill="#2c3a9e"/><rect x="161.7" y="184.1" width="2.8" height="2.8" fill="#2c3a9e"/><rect x="174.7" y="173.1" width="2.8" height="2.8" fill="#2c3a9e"/><rect x="195.6" y="160.1" width="2.8" height="2.8" fill="#2c3a9e"/><rect x="159.7" y="187.7" width="2.8" height="2.8" fill="#2c3a9e"/><rect x="182.6" y="173.6" width="2.8" height="2.8" fill="#2c3a9e"/><rect x="180.1" y="181.7" width="2.8" height="2.8" fill="#2c3a9e"/><rect x="163.1" y="163.9" width="2.8" height="2.8" fill="#2c3a9e"/><rect x="181.4" y="191.3" width="2.8" height="2.8" fill="#2c3a9e"/><rect x="170.6" y="176.9" width="2.8" height="2.8" fill="#2c3a9e"/><rect x="183.1" y="164.4" width="2.8" height="2.8" fill="#2c3a9e"/><rect x="180.3" y="170.0" width="2.8" height="2.8" fill="#2c3a9e"/><rect x="170.5" y="190.5" width="2.8" height="2.8" fill="#2c3a9e"/><rect x="191.8" y="164.2" width="2.8" height="2.8" fill="#2c3a9e"/><rect x="164.8" y="189.8" width="2.8" height="2.8" fill="#2c3a9e"/><rect x="187.7" y="177.4" width="2.8" height="2.8" fill="#2c3a9e"/><rect x="177.3" y="174.7" width="2.8" height="2.8" fill="#2c3a9e"/><rect x="189.4" y="168.6" width="2.8" height="2.8" fill="#2c3a9e"/><rect x="181.8" y="176.6" width="2.8" height="2.8" fill="#2c3a9e"/><rect x="182.0" y="162.7" width="2.8" height="2.8" fill="#2c3a9e"/><rect x="180.8" y="183.1" width="2.8" height="2.8" fill="#2c3a9e"/><rect x="182.6" y="165.0" width="2.8" height="2.8" fill="#2c3a9e"/><rect x="182.0" y="177.1" width="2.8" height="2.8" fill="#2c3a9e"/><rect x="194.4" y="155.2" width="2.8" height="2.8" fill="#2c3a9e"/><rect x="168.0" y="181.4" width="2.8" height="2.8" fill="#2c3a9e"/><rect x="185.9" y="164.4" width="2.8" height="2.8" fill="#2c3a9e"/><rect x="185.3" y="178.5" width="2.8" height="2.8" fill="#2c3a9e"/><rect x="181.3" y="179.6" width="2.8" height="2.8" fill="#2c3a9e"/><rect x="174.4" y="186.3" width="2.8" height="2.8" fill="#2c3a9e"/><rect x="178.8" y="171.1" width="2.8" height="2.8" fill="#2c3a9e"/><rect x="156.6" y="183.5" width="2.8" height="2.8" fill="#2c3a9e"/><rect x="155.8" y="180.4" width="2.8" height="2.8" fill="#2c3a9e"/><rect x="185.2" y="173.3" width="2.8" height="2.8" fill="#2c3a9e"/><rect x="159.4" y="188.5" width="2.8" height="2.8" fill="#2c3a9e"/><rect x="198.5" y="174.5" width="2.8" height="2.8" fill="#2c3a9e"/><rect x="184.7" y="192.7" width="2.8" height="2.8" fill="#2c3a9e"/><rect x="182.6" y="179.6" width="2.8" height="2.8" fill="#2c3a9e"/><rect x="179.8" y="179.7" width="2.8" height="2.8" fill="#2c3a9e"/><rect x="188.0" y="182.6" width="2.8" height="2.8" fill="#2c3a9e"/><rect x="182.3" y="189.9" width="2.8" height="2.8" fill="#2c3a9e"/><rect x="168.8" y="175.6" width="2.8" height="2.8" fill="#2c3a9e"/><rect x="178.5" y="182.3" width="2.8" height="2.8" fill="#2c3a9e"/><rect x="195.0" y="178.2" width="2.8" height="2.8" fill="#2c3a9e"/><rect x="174.0" y="151.5" width="2.8" height="2.8" fill="#2c3a9e"/><rect x="187.2" y="164.3" width="2.8" height="2.8" fill="#2c3a9e"/><rect x="180.8" y="175.1" width="2.8" height="2.8" fill="#2c3a9e"/><rect x="169.7" y="173.3" width="2.8" height="2.8" fill="#2c3a9e"/><rect x="162.9" y="195.0" width="2.8" height="2.8" fill="#2c3a9e"/><rect x="173.2" y="160.4" width="2.8" height="2.8" fill="#2c3a9e"/><rect x="192.2" y="179.1" width="2.8" height="2.8" fill="#2c3a9e"/><rect x="178.6" y="187.9" width="2.8" height="2.8" fill="#2c3a9e"/><rect x="184.2" y="170.2" width="2.8" height="2.8" fill="#2c3a9e"/><rect x="192.5" y="170.3" width="2.8" height="2.8" fill="#2c3a9e"/><rect x="168.7" y="166.2" width="2.8" height="2.8" fill="#2c3a9e"/><rect x="194.7" y="177.7" width="2.8" height="2.8" fill="#2c3a9e"/><rect x="182.5" y="178.3" width="2.8" height="2.8" fill="#2c3a9e"/><rect x="156.9" y="189.1" width="2.8" height="2.8" fill="#2c3a9e"/><rect x="167.7" y="176.4" width="2.8" height="2.8" fill="#2c3a9e"/><rect x="166.0" y="173.0" width="2.8" height="2.8" fill="#2c3a9e"/><rect x="178.9" y="169.5" width="2.8" height="2.8" fill="#2c3a9e"/><rect x="154.9" y="169.0" width="2.8" height="2.8" fill="#2c3a9e"/><rect x="173.7" y="182.9" width="2.8" height="2.8" fill="#2c3a9e"/><rect x="165.0" y="183.1" width="2.8" height="2.8" fill="#2c3a9e"/><rect x="170.5" y="170.9" width="2.8" height="2.8" fill="#2c3a9e"/><rect x="177.9" y="177.6" width="2.8" height="2.8" fill="#2c3a9e"/><rect x="186.8" y="169.9" width="2.8" height="2.8" fill="#2c3a9e"/><rect x="186.0" y="172.5" width="2.8" height="2.8" fill="#2c3a9e"/><rect x="180.7" y="179.0" width="2.8" height="2.8" fill="#2c3a9e"/><rect x="184.1" y="181.5" width="2.8" height="2.8" fill="#2c3a9e"/><rect x="179.7" y="178.9" width="2.8" height="2.8" fill="#2c3a9e"/><rect x="185.1" y="185.3" width="2.8" height="2.8" fill="#2c3a9e"/><rect x="188.9" y="160.8" width="2.8" height="2.8" fill="#2c3a9e"/><rect x="159.5" y="207.3" width="2.8" height="2.8" fill="#2c3a9e"/><rect x="162.6" y="164.3" width="2.8" height="2.8" fill="#2c3a9e"/><rect x="169.4" y="162.6" width="2.8" height="2.8" fill="#2c3a9e"/><rect x="180.8" y="159.6" width="2.8" height="2.8" fill="#2c3a9e"/><rect x="165.8" y="186.7" width="2.8" height="2.8" fill="#2c3a9e"/><rect x="182.2" y="177.1" width="2.8" height="2.8" fill="#2c3a9e"/><rect x="177.5" y="161.1" width="2.8" height="2.8" fill="#2c3a9e"/><rect x="170.2" y="178.8" width="2.8" height="2.8" fill="#2c3a9e"/><rect x="153.5" y="188.6" width="2.8" height="2.8" fill="#2c3a9e"/><rect x="175.9" y="183.9" width="2.8" height="2.8" fill="#2c3a9e"/><rect x="157.8" y="179.4" width="2.8" height="2.8" fill="#2c3a9e"/><rect x="186.4" y="176.0" width="2.8" height="2.8" fill="#2c3a9e"/><rect x="166.6" y="182.7" width="2.8" height="2.8" fill="#2c3a9e"/><rect x="202.8" y="172.6" width="2.8" height="2.8" fill="#2c3a9e"/><rect x="180.6" y="179.3" width="2.8" height="2.8" fill="#2c3a9e"/><rect x="164.9" y="179.7" width="2.8" height="2.8" fill="#2c3a9e"/><rect x="173.1" y="183.4" width="2.8" height="2.8" fill="#2c3a9e"/><rect x="167.2" y="188.3" width="2.8" height="2.8" fill="#2c3a9e"/><rect x="175.2" y="167.9" width="2.8" height="2.8" fill="#2c3a9e"/><rect x="190.9" y="164.3" width="2.8" height="2.8" fill="#2c3a9e"/><rect x="166.7" y="170.0" width="2.8" height="2.8" fill="#2c3a9e"/><rect x="198.0" y="184.2" width="2.8" height="2.8" fill="#2c3a9e"/><rect x="163.2" y="180.5" width="2.8" height="2.8" fill="#2c3a9e"/><rect x="175.9" y="170.4" width="2.8" height="2.8" fill="#2c3a9e"/><rect x="207.0" y="167.0" width="2.8" height="2.8" fill="#2c3a9e"/><rect x="168.7" y="196.5" width="2.8" height="2.8" fill="#2c3a9e"/><rect x="183.1" y="160.3" width="2.8" height="2.8" fill="#2c3a9e"/><rect x="193.1" y="173.4" width="2.8" height="2.8" fill="#2c3a9e"/><rect x="160.4" y="196.1" width="2.8" height="2.8" fill="#2c3a9e"/><rect x="158.1" y="184.4" width="2.8" height="2.8" fill="#2c3a9e"/><rect x="167.7" y="186.6" width="2.8" height="2.8" fill="#2c3a9e"/><rect x="182.7" y="165.1" width="2.8" height="2.8" fill="#2c3a9e"/><rect x="176.1" y="185.5" width="2.8" height="2.8" fill="#2c3a9e"/><rect x="172.4" y="175.8" width="2.8" height="2.8" fill="#2c3a9e"/><rect x="176.8" y="163.4" width="2.8" height="2.8" fill="#2c3a9e"/><rect x="175.1" y="173.2" width="2.8" height="2.8" fill="#2c3a9e"/><rect x="189.8" y="188.6" width="2.8" height="2.8" fill="#2c3a9e"/><rect x="168.9" y="174.8" width="2.8" height="2.8" fill="#2c3a9e"/><rect x="186.5" y="166.5" width="2.8" height="2.8" fill="#2c3a9e"/><rect x="172.8" y="188.7" width="2.8" height="2.8" fill="#2c3a9e"/><rect x="184.8" y="153.3" width="2.8" height="2.8" fill="#2c3a9e"/><rect x="181.8" y="190.4" width="2.8" height="2.8" fill="#2c3a9e"/><rect x="157.5" y="170.8" width="2.8" height="2.8" fill="#2c3a9e"/><rect x="185.5" y="175.0" width="2.8" height="2.8" fill="#2c3a9e"/><rect x="171.6" y="162.3" width="2.8" height="2.8" fill="#2c3a9e"/><rect x="156.2" y="193.2" width="2.8" height="2.8" fill="#2c3a9e"/><rect x="185.1" y="183.1" width="2.8" height="2.8" fill="#2c3a9e"/><rect x="161.7" y="187.0" width="2.8" height="2.8" fill="#2c3a9e"/><rect x="165.6" y="181.1" width="2.8" height="2.8" fill="#2c3a9e"/><rect x="180.5" y="166.2" width="2.8" height="2.8" fill="#2c3a9e"/><rect x="161.3" y="176.7" width="2.8" height="2.8" fill="#2c3a9e"/><rect x="184.1" y="179.2" width="2.8" height="2.8" fill="#2c3a9e"/><rect x="169.2" y="176.3" width="2.8" height="2.8" fill="#2c3a9e"/><rect x="190.9" y="155.4" width="2.8" height="2.8" fill="#2c3a9e"/><rect x="176.1" y="178.9" width="2.8" height="2.8" fill="#2c3a9e"/><rect x="169.0" y="192.2" width="2.8" height="2.8" fill="#2c3a9e"/><rect x="169.8" y="191.8" width="2.8" height="2.8" fill="#2c3a9e"/><rect x="162.5" y="179.1" width="2.8" height="2.8" fill="#2c3a9e"/><rect x="172.5" y="170.1" width="2.8" height="2.8" fill="#2c3a9e"/><rect x="180.1" y="181.8" width="2.8" height="2.8" fill="#2c3a9e"/><rect x="192.5" y="177.0" width="2.8" height="2.8" fill="#2c3a9e"/><rect x="170.5" y="166.9" width="2.8" height="2.8" fill="#2c3a9e"/><rect x="185.3" y="185.4" width="2.8" height="2.8" fill="#2c3a9e"/><rect x="177.9" y="172.6" width="2.8" height="2.8" fill="#2c3a9e"/><rect x="178.7" y="182.7" width="2.8" height="2.8" fill="#2c3a9e"/><rect x="188.0" y="185.3" width="2.8" height="2.8" fill="#2c3a9e"/><rect x="182.7" y="169.0" width="2.8" height="2.8" fill="#2c3a9e"/><rect x="125.4" y="192.7" width="2.8" height="2.8" fill="#2c3a9e"/><rect x="109.2" y="231.9" width="2.8" height="2.8" fill="#2c3a9e"/><rect x="121.4" y="212.0" width="2.8" height="2.8" fill="#2c3a9e"/><rect x="102.4" y="187.4" width="2.8" height="2.8" fill="#2c3a9e"/><rect x="107.4" y="221.4" width="2.8" height="2.8" fill="#2c3a9e"/><rect x="108.1" y="195.3" width="2.8" height="2.8" fill="#2c3a9e"/><rect x="105.0" y="193.6" width="2.8" height="2.8" fill="#2c3a9e"/><rect x="123.5" y="207.6" width="2.8" height="2.8" fill="#2c3a9e"/><rect x="97.3" y="189.8" width="2.8" height="2.8" fill="#2c3a9e"/><rect x="96.2" y="196.5" width="2.8" height="2.8" fill="#2c3a9e"/><rect x="123.3" y="185.5" width="2.8" height="2.8" fill="#2c3a9e"/><rect x="114.8" y="232.7" width="2.8" height="2.8" fill="#2c3a9e"/><rect x="118.8" y="178.7" width="2.8" height="2.8" fill="#2c3a9e"/><rect x="104.1" y="159.9" width="2.8" height="2.8" fill="#2c3a9e"/><rect x="118.5" y="220.0" width="2.8" height="2.8" fill="#2c3a9e"/><rect x="94.5" y="173.7" width="2.8" height="2.8" fill="#2c3a9e"/><rect x="110.6" y="209.3" width="2.8" height="2.8" fill="#2c3a9e"/><rect x="115.1" y="186.3" width="2.8" height="2.8" fill="#2c3a9e"/><rect x="91.9" y="186.6" width="2.8" height="2.8" fill="#2c3a9e"/><rect x="104.6" y="208.6" width="2.8" height="2.8" fill="#2c3a9e"/><rect x="97.8" y="179.7" width="2.8" height="2.8" fill="#2c3a9e"/><rect x="103.0" y="199.7" width="2.8" height="2.8" fill="#2c3a9e"/><rect x="108.4" y="205.6" width="2.8" height="2.8" fill="#2c3a9e"/><rect x="107.2" y="212.9" width="2.8" height="2.8" fill="#2c3a9e"/><rect x="91.4" y="185.3" width="2.8" height="2.8" fill="#2c3a9e"/><rect x="118.2" y="178.2" width="2.8" height="2.8" fill="#2c3a9e"/><rect x="98.6" y="244.3" width="2.8" height="2.8" fill="#2c3a9e"/><rect x="114.4" y="179.2" width="2.8" height="2.8" fill="#2c3a9e"/><rect x="104.3" y="203.3" width="2.8" height="2.8" fill="#2c3a9e"/><rect x="95.0" y="197.0" width="2.8" height="2.8" fill="#2c3a9e"/><rect x="120.0" y="191.0" width="2.8" height="2.8" fill="#2c3a9e"/><rect x="109.4" y="221.7" width="2.8" height="2.8" fill="#2c3a9e"/><rect x="115.6" y="191.6" width="2.8" height="2.8" fill="#2c3a9e"/><rect x="115.9" y="213.3" width="2.8" height="2.8" fill="#2c3a9e"/><rect x="114.6" y="183.8" width="2.8" height="2.8" fill="#2c3a9e"/><rect x="104.0" y="211.1" width="2.8" height="2.8" fill="#2c3a9e"/><rect x="116.1" y="174.5" width="2.8" height="2.8" fill="#2c3a9e"/><rect x="120.7" y="201.6" width="2.8" height="2.8" fill="#2c3a9e"/><rect x="104.7" y="197.1" width="2.8" height="2.8" fill="#2c3a9e"/><rect x="100.8" y="188.8" width="2.8" height="2.8" fill="#2c3a9e"/><rect x="105.5" y="180.7" width="2.8" height="2.8" fill="#2c3a9e"/><rect x="122.2" y="188.1" width="2.8" height="2.8" fill="#2c3a9e"/><rect x="110.6" y="176.2" width="2.8" height="2.8" fill="#2c3a9e"/><rect x="125.9" y="186.4" width="2.8" height="2.8" fill="#2c3a9e"/><rect x="107.4" y="200.0" width="2.8" height="2.8" fill="#2c3a9e"/><rect x="111.8" y="208.8" width="2.8" height="2.8" fill="#2c3a9e"/><rect x="126.4" y="188.2" width="2.8" height="2.8" fill="#2c3a9e"/><rect x="128.3" y="207.1" width="2.8" height="2.8" fill="#2c3a9e"/><rect x="118.8" y="214.2" width="2.8" height="2.8" fill="#2c3a9e"/><rect x="100.3" y="197.9" width="2.8" height="2.8" fill="#2c3a9e"/><rect x="111.9" y="207.1" width="2.8" height="2.8" fill="#2c3a9e"/><rect x="111.1" y="206.6" width="2.8" height="2.8" fill="#2c3a9e"/><rect x="101.1" y="184.9" width="2.8" height="2.8" fill="#2c3a9e"/><rect x="124.0" y="207.0" width="2.8" height="2.8" fill="#2c3a9e"/><rect x="115.7" y="191.3" width="2.8" height="2.8" fill="#2c3a9e"/><rect x="102.9" y="217.9" width="2.8" height="2.8" fill="#2c3a9e"/><rect x="100.0" y="190.5" width="2.8" height="2.8" fill="#2c3a9e"/><rect x="113.8" y="214.7" width="2.8" height="2.8" fill="#2c3a9e"/><rect x="94.7" y="188.6" width="2.8" height="2.8" fill="#2c3a9e"/><rect x="121.1" y="193.1" width="2.8" height="2.8" fill="#2c3a9e"/><rect x="107.0" y="191.2" width="2.8" height="2.8" fill="#2c3a9e"/><rect x="98.9" y="206.1" width="2.8" height="2.8" fill="#2c3a9e"/><rect x="117.1" y="196.8" width="2.8" height="2.8" fill="#2c3a9e"/><rect x="103.0" y="183.6" width="2.8" height="2.8" fill="#2c3a9e"/><rect x="110.2" y="199.9" width="2.8" height="2.8" fill="#2c3a9e"/><rect x="113.3" y="192.2" width="2.8" height="2.8" fill="#2c3a9e"/><rect x="102.0" y="199.5" width="2.8" height="2.8" fill="#2c3a9e"/><rect x="115.7" y="185.4" width="2.8" height="2.8" fill="#2c3a9e"/><rect x="124.7" y="213.8" width="2.8" height="2.8" fill="#2c3a9e"/><rect x="122.1" y="182.5" width="2.8" height="2.8" fill="#2c3a9e"/><rect x="110.9" y="208.1" width="2.8" height="2.8" fill="#2c3a9e"/><rect x="119.5" y="203.8" width="2.8" height="2.8" fill="#2c3a9e"/><rect x="100.8" y="224.4" width="2.8" height="2.8" fill="#2c3a9e"/><rect x="109.9" y="205.6" width="2.8" height="2.8" fill="#2c3a9e"/><rect x="122.6" y="192.8" width="2.8" height="2.8" fill="#2c3a9e"/><rect x="101.2" y="209.0" width="2.8" height="2.8" fill="#2c3a9e"/><rect x="113.5" y="191.6" width="2.8" height="2.8" fill="#2c3a9e"/><rect x="119.8" y="173.7" width="2.8" height="2.8" fill="#2c3a9e"/><rect x="112.9" y="194.9" width="2.8" height="2.8" fill="#2c3a9e"/><rect x="129.2" y="201.4" width="2.8" height="2.8" fill="#2c3a9e"/><rect x="107.7" y="196.7" width="2.8" height="2.8" fill="#2c3a9e"/><rect x="106.3" y="223.7" width="2.8" height="2.8" fill="#2c3a9e"/><rect x="97.6" y="187.8" width="2.8" height="2.8" fill="#2c3a9e"/><rect x="114.0" y="213.2" width="2.8" height="2.8" fill="#2c3a9e"/><rect x="112.9" y="203.6" width="2.8" height="2.8" fill="#2c3a9e"/><rect x="103.5" y="194.0" width="2.8" height="2.8" fill="#2c3a9e"/><rect x="115.6" y="183.8" width="2.8" height="2.8" fill="#2c3a9e"/><rect x="127.5" y="198.1" width="2.8" height="2.8" fill="#2c3a9e"/><rect x="106.5" y="184.1" width="2.8" height="2.8" fill="#2c3a9e"/><rect x="124.9" y="180.0" width="2.8" height="2.8" fill="#2c3a9e"/><rect x="118.9" y="176.6" width="2.8" height="2.8" fill="#2c3a9e"/><rect x="109.9" y="218.9" width="2.8" height="2.8" fill="#2c3a9e"/><rect x="90.3" y="207.6" width="2.8" height="2.8" fill="#2c3a9e"/><rect x="94.9" y="190.0" width="2.8" height="2.8" fill="#2c3a9e"/><rect x="111.4" y="198.9" width="2.8" height="2.8" fill="#2c3a9e"/><rect x="122.0" y="203.1" width="2.8" height="2.8" fill="#2c3a9e"/><rect x="113.3" y="210.9" width="2.8" height="2.8" fill="#2c3a9e"/><rect x="107.7" y="204.9" width="2.8" height="2.8" fill="#2c3a9e"/><rect x="129.0" y="207.1" width="2.8" height="2.8" fill="#2c3a9e"/><rect x="118.9" y="203.5" width="2.8" height="2.8" fill="#2c3a9e"/><rect x="121.2" y="204.6" width="2.8" height="2.8" fill="#2c3a9e"/><rect x="115.1" y="211.5" width="2.8" height="2.8" fill="#2c3a9e"/><rect x="113.4" y="196.1" width="2.8" height="2.8" fill="#2c3a9e"/><rect x="115.0" y="216.7" width="2.8" height="2.8" fill="#2c3a9e"/><rect x="113.6" y="212.8" width="2.8" height="2.8" fill="#2c3a9e"/><rect x="119.0" y="195.5" width="2.8" height="2.8" fill="#2c3a9e"/><rect x="113.0" y="210.6" width="2.8" height="2.8" fill="#2c3a9e"/><rect x="118.2" y="205.9" width="2.8" height="2.8" fill="#2c3a9e"/><rect x="118.5" y="204.3" width="2.8" height="2.8" fill="#2c3a9e"/><rect x="102.5" y="207.0" width="2.8" height="2.8" fill="#2c3a9e"/><rect x="112.9" y="207.4" width="2.8" height="2.8" fill="#2c3a9e"/><rect x="118.8" y="202.6" width="2.8" height="2.8" fill="#2c3a9e"/><rect x="119.7" y="205.1" width="2.8" height="2.8" fill="#2c3a9e"/><rect x="117.3" y="216.0" width="2.8" height="2.8" fill="#2c3a9e"/><rect x="112.1" y="197.7" width="2.8" height="2.8" fill="#2c3a9e"/><rect x="114.9" y="214.8" width="2.8" height="2.8" fill="#2c3a9e"/><rect x="115.9" y="202.9" width="2.8" height="2.8" fill="#2c3a9e"/><rect x="118.0" y="211.9" width="2.8" height="2.8" fill="#2c3a9e"/><rect x="111.6" y="212.9" width="2.8" height="2.8" fill="#2c3a9e"/><rect x="115.0" y="206.5" width="2.8" height="2.8" fill="#2c3a9e"/><rect x="104.0" y="208.3" width="2.8" height="2.8" fill="#2c3a9e"/><rect x="108.5" y="206.8" width="2.8" height="2.8" fill="#2c3a9e"/><rect x="125.7" y="218.1" width="2.8" height="2.8" fill="#2c3a9e"/><rect x="121.3" y="220.1" width="2.8" height="2.8" fill="#2c3a9e"/><rect x="122.2" y="205.1" width="2.8" height="2.8" fill="#2c3a9e"/><rect x="135.7" y="190.6" width="2.8" height="2.8" fill="#2c3a9e"/><rect x="127.4" y="180.8" width="2.8" height="2.8" fill="#2c3a9e"/><rect x="143.7" y="199.8" width="2.8" height="2.8" fill="#2c3a9e"/><rect x="147.1" y="193.0" width="2.8" height="2.8" fill="#2c3a9e"/><rect x="122.6" y="231.5" width="2.8" height="2.8" fill="#2c3a9e"/><rect x="124.9" y="193.0" width="2.8" height="2.8" fill="#2c3a9e"/><rect x="127.8" y="191.4" width="2.8" height="2.8" fill="#2c3a9e"/><rect x="138.2" y="192.4" width="2.8" height="2.8" fill="#2c3a9e"/><rect x="133.3" y="206.4" width="2.8" height="2.8" fill="#2c3a9e"/><rect x="132.3" y="193.4" width="2.8" height="2.8" fill="#2c3a9e"/><rect x="135.5" y="195.1" width="2.8" height="2.8" fill="#2c3a9e"/><rect x="135.0" y="193.5" width="2.8" height="2.8" fill="#2c3a9e"/><rect x="137.0" y="175.3" width="2.8" height="2.8" fill="#2c3a9e"/><rect x="132.8" y="217.6" width="2.8" height="2.8" fill="#2c3a9e"/><rect x="140.8" y="173.8" width="2.8" height="2.8" fill="#2c3a9e"/><rect x="110.8" y="188.8" width="2.8" height="2.8" fill="#2c3a9e"/><rect x="135.7" y="190.4" width="2.8" height="2.8" fill="#2c3a9e"/><rect x="140.1" y="198.7" width="2.8" height="2.8" fill="#2c3a9e"/><rect x="132.4" y="202.0" width="2.8" height="2.8" fill="#2c3a9e"/><rect x="123.8" y="166.1" width="2.8" height="2.8" fill="#2c3a9e"/><rect x="136.2" y="195.9" width="2.8" height="2.8" fill="#2c3a9e"/><rect x="127.3" y="179.2" width="2.8" height="2.8" fill="#2c3a9e"/><rect x="118.3" y="199.9" width="2.8" height="2.8" fill="#2c3a9e"/><rect x="129.9" y="166.5" width="2.8" height="2.8" fill="#2c3a9e"/><rect x="128.2" y="196.9" width="2.8" height="2.8" fill="#2c3a9e"/><rect x="131.7" y="161.6" width="2.8" height="2.8" fill="#2c3a9e"/><rect x="136.0" y="175.0" width="2.8" height="2.8" fill="#2c3a9e"/><rect x="133.3" y="192.0" width="2.8" height="2.8" fill="#2c3a9e"/><rect x="127.9" y="202.3" width="2.8" height="2.8" fill="#2c3a9e"/><rect x="140.1" y="204.9" width="2.8" height="2.8" fill="#2c3a9e"/><rect x="140.7" y="198.9" width="2.8" height="2.8" fill="#2c3a9e"/><rect x="137.9" y="184.7" width="2.8" height="2.8" fill="#2c3a9e"/><rect x="124.7" y="197.2" width="2.8" height="2.8" fill="#2c3a9e"/><rect x="127.8" y="192.3" width="2.8" height="2.8" fill="#2c3a9e"/><rect x="132.1" y="185.8" width="2.8" height="2.8" fill="#2c3a9e"/><rect x="129.3" y="208.2" width="2.8" height="2.8" fill="#2c3a9e"/><rect x="121.3" y="195.2" width="2.8" height="2.8" fill="#2c3a9e"/><rect x="139.5" y="194.9" width="2.8" height="2.8" fill="#2c3a9e"/><rect x="134.8" y="204.7" width="2.8" height="2.8" fill="#2c3a9e"/><rect x="124.8" y="186.1" width="2.8" height="2.8" fill="#2c3a9e"/><rect x="122.2" y="192.1" width="2.8" height="2.8" fill="#2c3a9e"/><rect x="138.1" y="176.3" width="2.8" height="2.8" fill="#2c3a9e"/><rect x="144.0" y="180.7" width="2.8" height="2.8" fill="#2c3a9e"/><rect x="134.5" y="173.6" width="2.8" height="2.8" fill="#2c3a9e"/><rect x="132.7" y="177.2" width="2.8" height="2.8" fill="#2c3a9e"/><rect x="131.8" y="179.0" width="2.8" height="2.8" fill="#2c3a9e"/><rect x="128.4" y="191.3" width="2.8" height="2.8" fill="#2c3a9e"/><rect x="142.0" y="200.5" width="2.8" height="2.8" fill="#2c3a9e"/><rect x="137.7" y="185.2" width="2.8" height="2.8" fill="#2c3a9e"/><rect x="131.3" y="194.6" width="2.8" height="2.8" fill="#2c3a9e"/><rect x="85.4" y="250.9" width="2.8" height="2.8" fill="#2c3a9e"/><rect x="88.1" y="228.1" width="2.8" height="2.8" fill="#2c3a9e"/><rect x="99.8" y="231.0" width="2.8" height="2.8" fill="#2c3a9e"/><rect x="104.1" y="263.7" width="2.8" height="2.8" fill="#2c3a9e"/><rect x="111.2" y="247.7" width="2.8" height="2.8" fill="#2c3a9e"/><rect x="105.1" y="230.0" width="2.8" height="2.8" fill="#2c3a9e"/><rect x="102.8" y="246.7" width="2.8" height="2.8" fill="#2c3a9e"/><rect x="105.2" y="235.2" width="2.8" height="2.8" fill="#2c3a9e"/><rect x="95.5" y="221.6" width="2.8" height="2.8" fill="#2c3a9e"/><rect x="105.6" y="236.2" width="2.8" height="2.8" fill="#2c3a9e"/><rect x="99.1" y="226.2" width="2.8" height="2.8" fill="#2c3a9e"/><rect x="100.4" y="232.5" width="2.8" height="2.8" fill="#2c3a9e"/><rect x="102.3" y="239.0" width="2.8" height="2.8" fill="#2c3a9e"/><rect x="91.0" y="234.8" width="2.8" height="2.8" fill="#2c3a9e"/><rect x="103.9" y="225.1" width="2.8" height="2.8" fill="#2c3a9e"/><rect x="103.5" y="220.9" width="2.8" height="2.8" fill="#2c3a9e"/><rect x="95.5" y="228.2" width="2.8" height="2.8" fill="#2c3a9e"/><rect x="96.5" y="238.6" width="2.8" height="2.8" fill="#2c3a9e"/><rect x="96.5" y="226.7" width="2.8" height="2.8" fill="#2c3a9e"/><rect x="121.9" y="233.9" width="2.8" height="2.8" fill="#2c3a9e"/><rect x="101.3" y="216.7" width="2.8" height="2.8" fill="#2c3a9e"/><rect x="108.6" y="231.5" width="2.8" height="2.8" fill="#2c3a9e"/><rect x="83.1" y="230.5" width="2.8" height="2.8" fill="#2c3a9e"/><rect x="93.3" y="244.0" width="2.8" height="2.8" fill="#2c3a9e"/><rect x="91.3" y="233.0" width="2.8" height="2.8" fill="#2c3a9e"/><rect x="97.7" y="224.7" width="2.8" height="2.8" fill="#2c3a9e"/><rect x="107.7" y="240.2" width="2.8" height="2.8" fill="#2c3a9e"/><rect x="105.2" y="228.7" width="2.8" height="2.8" fill="#2c3a9e"/><rect x="102.3" y="230.5" width="2.8" height="2.8" fill="#2c3a9e"/><rect x="106.0" y="234.6" width="2.8" height="2.8" fill="#2c3a9e"/><rect x="100.4" y="228.5" width="2.8" height="2.8" fill="#2c3a9e"/><rect x="102.1" y="235.1" width="2.8" height="2.8" fill="#2c3a9e"/><rect x="114.2" y="227.1" width="2.8" height="2.8" fill="#2c3a9e"/><rect x="107.0" y="229.7" width="2.8" height="2.8" fill="#2c3a9e"/><rect x="110.5" y="235.0" width="2.8" height="2.8" fill="#2c3a9e"/><rect x="116.7" y="216.0" width="2.8" height="2.8" fill="#2c3a9e"/><rect x="92.2" y="231.7" width="2.8" height="2.8" fill="#2c3a9e"/><rect x="118.2" y="234.4" width="2.8" height="2.8" fill="#2c3a9e"/><rect x="92.2" y="237.4" width="2.8" height="2.8" fill="#2c3a9e"/><rect x="111.3" y="229.7" width="2.8" height="2.8" fill="#2c3a9e"/><rect x="100.0" y="222.2" width="2.8" height="2.8" fill="#2c3a9e"/><rect x="117.5" y="231.0" width="2.8" height="2.8" fill="#2c3a9e"/><rect x="111.2" y="231.0" width="2.8" height="2.8" fill="#2c3a9e"/><rect x="95.4" y="228.0" width="2.8" height="2.8" fill="#2c3a9e"/><rect x="106.0" y="241.3" width="2.8" height="2.8" fill="#2c3a9e"/><rect x="106.1" y="219.6" width="2.8" height="2.8" fill="#2c3a9e"/><rect x="96.8" y="238.5" width="2.8" height="2.8" fill="#2c3a9e"/><rect x="103.4" y="235.1" width="2.8" height="2.8" fill="#2c3a9e"/><rect x="97.0" y="229.5" width="2.8" height="2.8" fill="#2c3a9e"/><rect x="99.3" y="228.0" width="2.8" height="2.8" fill="#2c3a9e"/><rect x="101.0" y="222.8" width="2.8" height="2.8" fill="#2c3a9e"/><rect x="101.9" y="221.5" width="2.8" height="2.8" fill="#2c3a9e"/><rect x="93.6" y="232.7" width="2.8" height="2.8" fill="#2c3a9e"/><rect x="115.8" y="240.1" width="2.8" height="2.8" fill="#2c3a9e"/><rect x="91.2" y="243.9" width="2.8" height="2.8" fill="#2c3a9e"/><rect x="103.0" y="243.5" width="2.8" height="2.8" fill="#2c3a9e"/><rect x="96.9" y="232.9" width="2.8" height="2.8" fill="#2c3a9e"/><rect x="111.7" y="233.3" width="2.8" height="2.8" fill="#2c3a9e"/><rect x="98.3" y="237.7" width="2.8" height="2.8" fill="#2c3a9e"/><rect x="98.2" y="228.0" width="2.8" height="2.8" fill="#2c3a9e"/><rect x="115.2" y="238.0" width="2.8" height="2.8" fill="#2c3a9e"/><rect x="101.3" y="224.9" width="2.8" height="2.8" fill="#2c3a9e"/><rect x="95.7" y="230.3" width="2.8" height="2.8" fill="#2c3a9e"/><rect x="105.4" y="236.5" width="2.8" height="2.8" fill="#2c3a9e"/><rect x="93.6" y="222.1" width="2.8" height="2.8" fill="#2c3a9e"/><rect x="103.7" y="242.8" width="2.8" height="2.8" fill="#2c3a9e"/><rect x="97.6" y="237.5" width="2.8" height="2.8" fill="#2c3a9e"/><rect x="104.8" y="230.3" width="2.8" height="2.8" fill="#2c3a9e"/><rect x="93.1" y="229.4" width="2.8" height="2.8" fill="#2c3a9e"/><rect x="108.1" y="233.3" width="2.8" height="2.8" fill="#2c3a9e"/><rect x="109.2" y="225.2" width="2.8" height="2.8" fill="#2c3a9e"/><rect x="94.9" y="238.9" width="2.8" height="2.8" fill="#2c3a9e"/><rect x="101.0" y="233.4" width="2.8" height="2.8" fill="#2c3a9e"/><rect x="106.3" y="238.3" width="2.8" height="2.8" fill="#2c3a9e"/><rect x="91.3" y="223.0" width="2.8" height="2.8" fill="#2c3a9e"/><rect x="102.2" y="241.5" width="2.8" height="2.8" fill="#2c3a9e"/><rect x="103.8" y="236.6" width="2.8" height="2.8" fill="#2c3a9e"/><rect x="92.4" y="245.5" width="2.8" height="2.8" fill="#2c3a9e"/><rect x="95.3" y="242.0" width="2.8" height="2.8" fill="#2c3a9e"/><rect x="111.3" y="239.1" width="2.8" height="2.8" fill="#2c3a9e"/><rect x="104.3" y="222.4" width="2.8" height="2.8" fill="#2c3a9e"/><rect x="99.2" y="231.1" width="2.8" height="2.8" fill="#2c3a9e"/><rect x="93.5" y="233.7" width="2.8" height="2.8" fill="#2c3a9e"/><rect x="106.2" y="225.7" width="2.8" height="2.8" fill="#2c3a9e"/><rect x="97.1" y="240.0" width="2.8" height="2.8" fill="#2c3a9e"/><rect x="118.5" y="221.8" width="2.8" height="2.8" fill="#2c3a9e"/><rect x="104.0" y="242.0" width="2.8" height="2.8" fill="#2c3a9e"/><rect x="97.0" y="225.2" width="2.8" height="2.8" fill="#2c3a9e"/><rect x="94.2" y="235.2" width="2.8" height="2.8" fill="#2c3a9e"/><rect x="102.4" y="246.0" width="2.8" height="2.8" fill="#2c3a9e"/><rect x="93.7" y="236.4" width="2.8" height="2.8" fill="#2c3a9e"/><rect x="95.5" y="226.2" width="2.8" height="2.8" fill="#2c3a9e"/><rect x="99.4" y="235.5" width="2.8" height="2.8" fill="#2c3a9e"/><rect x="103.7" y="231.0" width="2.8" height="2.8" fill="#2c3a9e"/><rect x="112.3" y="235.1" width="2.8" height="2.8" fill="#2c3a9e"/><rect x="93.9" y="231.8" width="2.8" height="2.8" fill="#2c3a9e"/><rect x="112.2" y="233.2" width="2.8" height="2.8" fill="#2c3a9e"/><rect x="101.7" y="229.0" width="2.8" height="2.8" fill="#2c3a9e"/><rect x="104.3" y="230.5" width="2.8" height="2.8" fill="#2c3a9e"/><rect x="95.4" y="235.4" width="2.8" height="2.8" fill="#2c3a9e"/><rect x="108.3" y="231.5" width="2.8" height="2.8" fill="#2c3a9e"/><rect x="108.2" y="242.0" width="2.8" height="2.8" fill="#2c3a9e"/><rect x="98.9" y="240.1" width="2.8" height="2.8" fill="#2c3a9e"/><rect x="108.2" y="230.5" width="2.8" height="2.8" fill="#2c3a9e"/><rect x="100.9" y="224.1" width="2.8" height="2.8" fill="#2c3a9e"/><rect x="98.6" y="218.7" width="2.8" height="2.8" fill="#2c3a9e"/><rect x="92.5" y="227.8" width="2.8" height="2.8" fill="#2c3a9e"/><rect x="95.9" y="237.9" width="2.8" height="2.8" fill="#2c3a9e"/><rect x="99.5" y="230.4" width="2.8" height="2.8" fill="#2c3a9e"/><rect x="111.8" y="227.5" width="2.8" height="2.8" fill="#2c3a9e"/><rect x="102.8" y="229.5" width="2.8" height="2.8" fill="#2c3a9e"/><rect x="97.9" y="223.1" width="2.8" height="2.8" fill="#2c3a9e"/><rect x="99.1" y="230.8" width="2.8" height="2.8" fill="#2c3a9e"/><rect x="102.4" y="228.7" width="2.8" height="2.8" fill="#2c3a9e"/><rect x="100.4" y="245.6" width="2.8" height="2.8" fill="#2c3a9e"/><rect x="98.5" y="232.2" width="2.8" height="2.8" fill="#2c3a9e"/><rect x="113.2" y="253.3" width="2.8" height="2.8" fill="#2c3a9e"/><rect x="106.5" y="237.7" width="2.8" height="2.8" fill="#2c3a9e"/><rect x="100.2" y="227.8" width="2.8" height="2.8" fill="#2c3a9e"/><rect x="102.2" y="235.0" width="2.8" height="2.8" fill="#2c3a9e"/><rect x="95.6" y="226.6" width="2.8" height="2.8" fill="#2c3a9e"/><rect x="103.7" y="237.4" width="2.8" height="2.8" fill="#2c3a9e"/><rect x="102.0" y="216.8" width="2.8" height="2.8" fill="#2c3a9e"/><rect x="96.6" y="243.3" width="2.8" height="2.8" fill="#2c3a9e"/><rect x="90.7" y="235.2" width="2.8" height="2.8" fill="#2c3a9e"/><rect x="93.2" y="239.9" width="2.8" height="2.8" fill="#2c3a9e"/><rect x="99.0" y="223.5" width="2.8" height="2.8" fill="#2c3a9e"/><rect x="96.9" y="252.0" width="2.8" height="2.8" fill="#2c3a9e"/><rect x="104.8" y="223.4" width="2.8" height="2.8" fill="#2c3a9e"/><rect x="113.6" y="235.2" width="2.8" height="2.8" fill="#2c3a9e"/><rect x="95.7" y="210.0" width="2.8" height="2.8" fill="#2c3a9e"/><rect x="102.2" y="221.6" width="2.8" height="2.8" fill="#2c3a9e"/><rect x="106.8" y="225.8" width="2.8" height="2.8" fill="#2c3a9e"/><rect x="94.1" y="214.6" width="2.8" height="2.8" fill="#2c3a9e"/><rect x="103.5" y="224.4" width="2.8" height="2.8" fill="#2c3a9e"/><rect x="107.7" y="216.9" width="2.8" height="2.8" fill="#2c3a9e"/><rect x="97.4" y="224.6" width="2.8" height="2.8" fill="#2c3a9e"/><rect x="110.9" y="235.4" width="2.8" height="2.8" fill="#2c3a9e"/><rect x="103.2" y="229.0" width="2.8" height="2.8" fill="#2c3a9e"/><rect x="96.1" y="216.2" width="2.8" height="2.8" fill="#2c3a9e"/><rect x="99.7" y="216.7" width="2.8" height="2.8" fill="#2c3a9e"/><rect x="98.4" y="216.2" width="2.8" height="2.8" fill="#2c3a9e"/><rect x="104.0" y="216.8" width="2.8" height="2.8" fill="#2c3a9e"/><rect x="108.9" y="218.9" width="2.8" height="2.8" fill="#2c3a9e"/><rect x="104.4" y="228.1" width="2.8" height="2.8" fill="#2c3a9e"/><rect x="106.6" y="220.3" width="2.8" height="2.8" fill="#2c3a9e"/><rect x="104.3" y="219.8" width="2.8" height="2.8" fill="#2c3a9e"/><rect x="108.3" y="214.7" width="2.8" height="2.8" fill="#2c3a9e"/><rect x="112.2" y="228.7" width="2.8" height="2.8" fill="#2c3a9e"/><rect x="112.3" y="216.5" width="2.8" height="2.8" fill="#2c3a9e"/><rect x="93.5" y="216.9" width="2.8" height="2.8" fill="#2c3a9e"/><rect x="105.4" y="224.3" width="2.8" height="2.8" fill="#2c3a9e"/><rect x="103.1" y="217.6" width="2.8" height="2.8" fill="#2c3a9e"/><rect x="114.8" y="215.5" width="2.8" height="2.8" fill="#2c3a9e"/><rect x="111.7" y="224.7" width="2.8" height="2.8" fill="#2c3a9e"/><rect x="95.3" y="221.1" width="2.8" height="2.8" fill="#2c3a9e"/><rect x="100.6" y="213.9" width="2.8" height="2.8" fill="#2c3a9e"/><rect x="91.7" y="210.2" width="2.8" height="2.8" fill="#2c3a9e"/><rect x="107.2" y="217.1" width="2.8" height="2.8" fill="#2c3a9e"/><rect x="106.3" y="213.2" width="2.8" height="2.8" fill="#2c3a9e"/><rect x="102.2" y="217.8" width="2.8" height="2.8" fill="#2c3a9e"/><rect x="93.8" y="209.7" width="2.8" height="2.8" fill="#2c3a9e"/><rect x="107.4" y="220.3" width="2.8" height="2.8" fill="#2c3a9e"/><rect x="98.0" y="218.8" width="2.8" height="2.8" fill="#2c3a9e"/><rect x="108.9" y="230.2" width="2.8" height="2.8" fill="#2c3a9e"/><rect x="98.3" y="223.1" width="2.8" height="2.8" fill="#2c3a9e"/><rect x="118.9" y="219.8" width="2.8" height="2.8" fill="#2c3a9e"/><rect x="114.5" y="204.2" width="2.8" height="2.8" fill="#2c3a9e"/><rect x="114.3" y="219.4" width="2.8" height="2.8" fill="#2c3a9e"/><rect x="91.5" y="224.0" width="2.8" height="2.8" fill="#2c3a9e"/><rect x="111.6" y="226.5" width="2.8" height="2.8" fill="#2c3a9e"/><rect x="112.6" y="219.2" width="2.8" height="2.8" fill="#2c3a9e"/><rect x="99.3" y="216.7" width="2.8" height="2.8" fill="#2c3a9e"/><rect x="104.2" y="221.8" width="2.8" height="2.8" fill="#2c3a9e"/><rect x="101.1" y="219.7" width="2.8" height="2.8" fill="#2c3a9e"/><rect x="110.4" y="221.3" width="2.8" height="2.8" fill="#2c3a9e"/><rect x="120.1" y="232.1" width="2.8" height="2.8" fill="#2c3a9e"/><rect x="96.5" y="216.1" width="2.8" height="2.8" fill="#2c3a9e"/><rect x="95.4" y="212.6" width="2.8" height="2.8" fill="#2c3a9e"/><rect x="108.1" y="213.6" width="2.8" height="2.8" fill="#2c3a9e"/><rect x="97.2" y="217.8" width="2.8" height="2.8" fill="#2c3a9e"/><rect x="109.9" y="217.3" width="2.8" height="2.8" fill="#2c3a9e"/><rect x="101.9" y="224.8" width="2.8" height="2.8" fill="#2c3a9e"/><rect x="107.6" y="222.1" width="2.8" height="2.8" fill="#2c3a9e"/><rect x="110.9" y="213.5" width="2.8" height="2.8" fill="#2c3a9e"/><rect x="105.9" y="215.7" width="2.8" height="2.8" fill="#2c3a9e"/><rect x="111.5" y="224.2" width="2.8" height="2.8" fill="#2c3a9e"/><rect x="97.2" y="227.3" width="2.8" height="2.8" fill="#2c3a9e"/><rect x="96.4" y="226.3" width="2.8" height="2.8" fill="#2c3a9e"/><rect x="105.8" y="214.3" width="2.8" height="2.8" fill="#2c3a9e"/><rect x="121.3" y="225.3" width="2.8" height="2.8" fill="#2c3a9e"/><rect x="132.1" y="222.5" width="2.8" height="2.8" fill="#2c3a9e"/><rect x="137.8" y="217.8" width="2.8" height="2.8" fill="#2c3a9e"/><rect x="132.2" y="227.4" width="2.8" height="2.8" fill="#2c3a9e"/><rect x="113.9" y="229.5" width="2.8" height="2.8" fill="#2c3a9e"/><rect x="119.9" y="210.2" width="2.8" height="2.8" fill="#2c3a9e"/><rect x="126.3" y="225.8" width="2.8" height="2.8" fill="#2c3a9e"/><rect x="141.2" y="224.0" width="2.8" height="2.8" fill="#2c3a9e"/><rect x="146.8" y="237.3" width="2.8" height="2.8" fill="#2c3a9e"/><rect x="143.1" y="236.5" width="2.8" height="2.8" fill="#2c3a9e"/><rect x="135.8" y="223.6" width="2.8" height="2.8" fill="#2c3a9e"/><rect x="138.7" y="234.1" width="2.8" height="2.8" fill="#2c3a9e"/><rect x="134.7" y="225.7" width="2.8" height="2.8" fill="#2c3a9e"/><rect x="116.9" y="232.1" width="2.8" height="2.8" fill="#2c3a9e"/><rect x="135.8" y="218.4" width="2.8" height="2.8" fill="#2c3a9e"/><rect x="133.3" y="232.4" width="2.8" height="2.8" fill="#2c3a9e"/><rect x="131.2" y="232.8" width="2.8" height="2.8" fill="#2c3a9e"/><rect x="139.7" y="217.2" width="2.8" height="2.8" fill="#2c3a9e"/><rect x="129.3" y="230.7" width="2.8" height="2.8" fill="#2c3a9e"/><rect x="141.3" y="237.1" width="2.8" height="2.8" fill="#2c3a9e"/><rect x="113.4" y="226.9" width="2.8" height="2.8" fill="#2c3a9e"/><rect x="139.4" y="235.8" width="2.8" height="2.8" fill="#2c3a9e"/><rect x="148.9" y="220.9" width="2.8" height="2.8" fill="#2c3a9e"/><rect x="128.6" y="220.1" width="2.8" height="2.8" fill="#2c3a9e"/><rect x="140.4" y="218.2" width="2.8" height="2.8" fill="#2c3a9e"/><rect x="144.0" y="233.9" width="2.8" height="2.8" fill="#2c3a9e"/><rect x="137.1" y="212.4" width="2.8" height="2.8" fill="#2c3a9e"/><rect x="125.6" y="232.6" width="2.8" height="2.8" fill="#2c3a9e"/><rect x="118.3" y="225.7" width="2.8" height="2.8" fill="#2c3a9e"/><rect x="131.3" y="233.5" width="2.8" height="2.8" fill="#2c3a9e"/><rect x="135.1" y="229.3" width="2.8" height="2.8" fill="#2c3a9e"/><rect x="127.9" y="227.4" width="2.8" height="2.8" fill="#2c3a9e"/><rect x="131.0" y="232.4" width="2.8" height="2.8" fill="#2c3a9e"/><rect x="130.5" y="234.5" width="2.8" height="2.8" fill="#2c3a9e"/><rect x="115.5" y="235.7" width="2.8" height="2.8" fill="#2c3a9e"/><rect x="130.6" y="235.2" width="2.8" height="2.8" fill="#2c3a9e"/><rect x="133.1" y="233.3" width="2.8" height="2.8" fill="#2c3a9e"/><rect x="147.0" y="223.5" width="2.8" height="2.8" fill="#2c3a9e"/><rect x="133.1" y="226.2" width="2.8" height="2.8" fill="#2c3a9e"/><rect x="134.3" y="216.2" width="2.8" height="2.8" fill="#2c3a9e"/><rect x="130.6" y="225.7" width="2.8" height="2.8" fill="#2c3a9e"/><rect x="124.5" y="226.0" width="2.8" height="2.8" fill="#2c3a9e"/><rect x="117.0" y="237.0" width="2.8" height="2.8" fill="#2c3a9e"/><rect x="136.7" y="240.4" width="2.8" height="2.8" fill="#2c3a9e"/><rect x="123.6" y="219.3" width="2.8" height="2.8" fill="#2c3a9e"/><rect x="135.1" y="215.8" width="2.8" height="2.8" fill="#2c3a9e"/><rect x="134.5" y="222.5" width="2.8" height="2.8" fill="#2c3a9e"/><rect x="129.0" y="229.1" width="2.8" height="2.8" fill="#2c3a9e"/><rect x="132.7" y="240.2" width="2.8" height="2.8" fill="#2c3a9e"/><rect x="138.5" y="218.4" width="2.8" height="2.8" fill="#2c3a9e"/><rect x="141.9" y="218.1" width="2.8" height="2.8" fill="#2c3a9e"/><rect x="133.1" y="218.7" width="2.8" height="2.8" fill="#2c3a9e"/><rect x="124.1" y="236.4" width="2.8" height="2.8" fill="#2c3a9e"/><rect x="126.7" y="222.9" width="2.8" height="2.8" fill="#2c3a9e"/><rect x="126.7" y="225.2" width="2.8" height="2.8" fill="#2c3a9e"/><rect x="146.5" y="219.2" width="2.8" height="2.8" fill="#2c3a9e"/><rect x="120.0" y="231.4" width="2.8" height="2.8" fill="#2c3a9e"/><rect x="116.5" y="224.8" width="2.8" height="2.8" fill="#2c3a9e"/><rect x="143.4" y="227.3" width="2.8" height="2.8" fill="#2c3a9e"/><rect x="127.5" y="222.4" width="2.8" height="2.8" fill="#2c3a9e"/><rect x="123.2" y="223.2" width="2.8" height="2.8" fill="#2c3a9e"/><rect x="133.5" y="235.9" width="2.8" height="2.8" fill="#2c3a9e"/><rect x="141.7" y="223.4" width="2.8" height="2.8" fill="#2c3a9e"/><rect x="124.9" y="232.1" width="2.8" height="2.8" fill="#2c3a9e"/><rect x="114.2" y="224.3" width="2.8" height="2.8" fill="#2c3a9e"/><rect x="128.9" y="219.6" width="2.8" height="2.8" fill="#2c3a9e"/><rect x="122.3" y="229.7" width="2.8" height="2.8" fill="#2c3a9e"/><rect x="115.8" y="220.9" width="2.8" height="2.8" fill="#2c3a9e"/><rect x="125.7" y="227.8" width="2.8" height="2.8" fill="#2c3a9e"/><rect x="118.5" y="234.7" width="2.8" height="2.8" fill="#2c3a9e"/><rect x="152.2" y="233.5" width="2.8" height="2.8" fill="#2c3a9e"/><rect x="151.2" y="229.4" width="2.8" height="2.8" fill="#2c3a9e"/><rect x="140.1" y="247.4" width="2.8" height="2.8" fill="#2c3a9e"/><rect x="161.2" y="234.9" width="2.8" height="2.8" fill="#2c3a9e"/><rect x="175.2" y="229.0" width="2.8" height="2.8" fill="#2c3a9e"/><rect x="168.7" y="236.2" width="2.8" height="2.8" fill="#2c3a9e"/><rect x="141.7" y="243.5" width="2.8" height="2.8" fill="#2c3a9e"/><rect x="130.9" y="242.4" width="2.8" height="2.8" fill="#2c3a9e"/><rect x="141.7" y="240.0" width="2.8" height="2.8" fill="#2c3a9e"/><rect x="181.9" y="241.5" width="2.8" height="2.8" fill="#2c3a9e"/><rect x="146.7" y="235.6" width="2.8" height="2.8" fill="#2c3a9e"/><rect x="150.8" y="224.3" width="2.8" height="2.8" fill="#2c3a9e"/><rect x="137.7" y="236.3" width="2.8" height="2.8" fill="#2c3a9e"/><rect x="166.8" y="218.5" width="2.8" height="2.8" fill="#2c3a9e"/><rect x="156.0" y="240.8" width="2.8" height="2.8" fill="#2c3a9e"/><rect x="159.1" y="225.9" width="2.8" height="2.8" fill="#2c3a9e"/><rect x="175.5" y="223.8" width="2.8" height="2.8" fill="#2c3a9e"/><rect x="168.6" y="251.5" width="2.8" height="2.8" fill="#2c3a9e"/><rect x="121.0" y="238.3" width="2.8" height="2.8" fill="#2c3a9e"/><rect x="162.6" y="238.0" width="2.8" height="2.8" fill="#2c3a9e"/><rect x="143.5" y="232.7" width="2.8" height="2.8" fill="#2c3a9e"/><rect x="132.3" y="237.0" width="2.8" height="2.8" fill="#2c3a9e"/><rect x="166.5" y="229.2" width="2.8" height="2.8" fill="#2c3a9e"/><rect x="140.6" y="231.1" width="2.8" height="2.8" fill="#2c3a9e"/><rect x="156.8" y="236.3" width="2.8" height="2.8" fill="#2c3a9e"/><rect x="107.2" y="184.1" width="2.8" height="2.8" fill="#2c3a9e"/><rect x="105.0" y="188.0" width="2.8" height="2.8" fill="#2c3a9e"/><rect x="128.2" y="193.7" width="2.8" height="2.8" fill="#2c3a9e"/><rect x="147.4" y="208.0" width="2.8" height="2.8" fill="#2c3a9e"/><rect x="101.4" y="179.7" width="2.8" height="2.8" fill="#2c3a9e"/><rect x="120.8" y="208.4" width="2.8" height="2.8" fill="#2c3a9e"/><rect x="103.1" y="164.1" width="2.8" height="2.8" fill="#2c3a9e"/><rect x="125.5" y="180.8" width="2.8" height="2.8" fill="#2c3a9e"/><rect x="127.3" y="164.2" width="2.8" height="2.8" fill="#2c3a9e"/><rect x="123.1" y="175.9" width="2.8" height="2.8" fill="#2c3a9e"/><rect x="100.6" y="207.8" width="2.8" height="2.8" fill="#2c3a9e"/><rect x="133.6" y="212.1" width="2.8" height="2.8" fill="#2c3a9e"/><rect x="161.7" y="233.7" width="2.8" height="2.8" fill="#2c3a9e"/><rect x="148.0" y="256.1" width="2.8" height="2.8" fill="#2c3a9e"/><rect x="151.2" y="248.7" width="2.8" height="2.8" fill="#2c3a9e"/><rect x="191.7" y="214.3" width="2.8" height="2.8" fill="#2c3a9e"/><rect x="159.3" y="259.0" width="2.8" height="2.8" fill="#2c3a9e"/><rect x="142.5" y="235.0" width="2.8" height="2.8" fill="#2c3a9e"/><rect x="187.0" y="222.1" width="2.8" height="2.8" fill="#2c3a9e"/><rect x="164.3" y="256.4" width="2.8" height="2.8" fill="#2c3a9e"/><rect x="158.5" y="180.1" width="2.6" height="2.6" fill="#f08a2c"/><rect x="177.1" y="175.9" width="2.6" height="2.6" fill="#f08a2c"/><rect x="171.8" y="181.4" width="2.6" height="2.6" fill="#f08a2c"/><rect x="186.8" y="185.5" width="2.6" height="2.6" fill="#f08a2c"/><rect x="149.7" y="197.1" width="2.6" height="2.6" fill="#f08a2c"/><rect x="160.7" y="192.8" width="2.6" height="2.6" fill="#f08a2c"/><rect x="169.2" y="166.7" width="2.6" height="2.6" fill="#f08a2c"/><rect x="170.3" y="187.5" width="2.6" height="2.6" fill="#f08a2c"/><rect x="181.8" y="186.2" width="2.6" height="2.6" fill="#f08a2c"/><rect x="191.1" y="160.0" width="2.6" height="2.6" fill="#f08a2c"/><rect x="172.4" y="191.6" width="2.6" height="2.6" fill="#f08a2c"/><rect x="170.3" y="177.2" width="2.6" height="2.6" fill="#f08a2c"/><rect x="170.7" y="195.3" width="2.6" height="2.6" fill="#f08a2c"/><rect x="164.1" y="190.2" width="2.6" height="2.6" fill="#f08a2c"/><rect x="170.8" y="184.7" width="2.6" height="2.6" fill="#f08a2c"/><rect x="154.3" y="198.7" width="2.6" height="2.6" fill="#f08a2c"/><rect x="150.1" y="208.9" width="2.6" height="2.6" fill="#f08a2c"/><rect x="190.3" y="172.4" width="2.6" height="2.6" fill="#f08a2c"/><rect x="169.4" y="184.0" width="2.6" height="2.6" fill="#f08a2c"/><rect x="186.2" y="173.6" width="2.6" height="2.6" fill="#f08a2c"/><rect x="170.6" y="180.2" width="2.6" height="2.6" fill="#f08a2c"/><rect x="173.5" y="182.5" width="2.6" height="2.6" fill="#f08a2c"/><rect x="191.5" y="188.9" width="2.6" height="2.6" fill="#f08a2c"/><rect x="178.5" y="174.9" width="2.6" height="2.6" fill="#f08a2c"/><rect x="148.3" y="187.2" width="2.6" height="2.6" fill="#f08a2c"/><rect x="181.7" y="167.2" width="2.6" height="2.6" fill="#f08a2c"/><rect x="155.8" y="189.5" width="2.6" height="2.6" fill="#f08a2c"/><rect x="169.6" y="177.4" width="2.6" height="2.6" fill="#f08a2c"/><rect x="201.4" y="157.1" width="2.6" height="2.6" fill="#f08a2c"/><rect x="179.3" y="189.8" width="2.6" height="2.6" fill="#f08a2c"/><rect x="183.6" y="159.0" width="2.6" height="2.6" fill="#f08a2c"/><rect x="159.8" y="179.8" width="2.6" height="2.6" fill="#f08a2c"/><rect x="173.5" y="172.2" width="2.6" height="2.6" fill="#f08a2c"/><rect x="168.2" y="179.3" width="2.6" height="2.6" fill="#f08a2c"/><rect x="172.4" y="175.4" width="2.6" height="2.6" fill="#f08a2c"/><rect x="160.9" y="192.1" width="2.6" height="2.6" fill="#f08a2c"/><rect x="158.4" y="190.9" width="2.6" height="2.6" fill="#f08a2c"/><rect x="173.8" y="178.7" width="2.6" height="2.6" fill="#f08a2c"/><rect x="150.9" y="197.7" width="2.6" height="2.6" fill="#f08a2c"/><rect x="166.7" y="197.6" width="2.6" height="2.6" fill="#f08a2c"/><rect x="181.2" y="179.2" width="2.6" height="2.6" fill="#f08a2c"/><rect x="159.9" y="185.7" width="2.6" height="2.6" fill="#f08a2c"/><rect x="162.5" y="194.3" width="2.6" height="2.6" fill="#f08a2c"/><rect x="172.8" y="209.6" width="2.6" height="2.6" fill="#f08a2c"/><rect x="171.1" y="180.0" width="2.6" height="2.6" fill="#f08a2c"/><rect x="180.2" y="200.5" width="2.6" height="2.6" fill="#f08a2c"/><rect x="160.1" y="169.0" width="2.6" height="2.6" fill="#f08a2c"/><rect x="163.7" y="180.1" width="2.6" height="2.6" fill="#f08a2c"/><rect x="186.5" y="157.9" width="2.6" height="2.6" fill="#f08a2c"/><rect x="169.5" y="191.3" width="2.6" height="2.6" fill="#f08a2c"/><rect x="155.5" y="211.0" width="2.6" height="2.6" fill="#f08a2c"/><rect x="172.8" y="182.4" width="2.6" height="2.6" fill="#f08a2c"/><rect x="170.1" y="182.3" width="2.6" height="2.6" fill="#f08a2c"/><rect x="176.6" y="185.4" width="2.6" height="2.6" fill="#f08a2c"/><rect x="151.5" y="199.2" width="2.6" height="2.6" fill="#f08a2c"/><rect x="183.2" y="182.6" width="2.6" height="2.6" fill="#d0142a"/><rect x="170.0" y="161.3" width="2.6" height="2.6" fill="#d0142a"/><rect x="178.0" y="172.9" width="2.6" height="2.6" fill="#d0142a"/><rect x="181.4" y="190.6" width="2.6" height="2.6" fill="#d0142a"/><rect x="190.6" y="180.2" width="2.6" height="2.6" fill="#d0142a"/><rect x="186.5" y="190.6" width="2.6" height="2.6" fill="#d0142a"/><rect x="178.3" y="180.1" width="2.6" height="2.6" fill="#d0142a"/><rect x="184.5" y="177.7" width="2.6" height="2.6" fill="#d0142a"/><rect x="174.2" y="172.2" width="2.6" height="2.6" fill="#d0142a"/><rect x="178.1" y="173.2" width="2.6" height="2.6" fill="#d0142a"/><rect x="184.1" y="175.5" width="2.6" height="2.6" fill="#d0142a"/><rect x="189.2" y="187.3" width="2.6" height="2.6" fill="#d0142a"/><rect x="92.9" y="240.7" width="2.8" height="2.8" fill="#f08a2c"/><rect x="96.5" y="241.8" width="2.8" height="2.8" fill="#f08a2c"/><rect x="100.4" y="236.6" width="2.8" height="2.8" fill="#f08a2c"/><rect x="101.1" y="234.8" width="2.8" height="2.8" fill="#f08a2c"/><rect x="99.7" y="238.2" width="2.8" height="2.8" fill="#f08a2c"/><rect x="97.6" y="238.2" width="2.8" height="2.8" fill="#f08a2c"/><rect x="94.0" y="238.8" width="2.8" height="2.8" fill="#f08a2c"/><rect x="93.1" y="239.1" width="2.8" height="2.8" fill="#f08a2c"/><rect x="100.3" y="239.4" width="2.8" height="2.8" fill="#f08a2c"/><rect x="95.9" y="247.8" width="2.8" height="2.8" fill="#f08a2c"/><rect x="97.3" y="237.4" width="2.8" height="2.8" fill="#f08a2c"/><rect x="95.1" y="242.0" width="2.8" height="2.8" fill="#f08a2c"/><rect x="96.3" y="240.4" width="2.8" height="2.8" fill="#f08a2c"/><rect x="94.3" y="238.0" width="2.8" height="2.8" fill="#f08a2c"/><rect x="96.7" y="240.2" width="2.8" height="2.8" fill="#f08a2c"/><rect x="97.1" y="233.8" width="2.8" height="2.8" fill="#f08a2c"/><rect x="100.3" y="232.6" width="2.8" height="2.8" fill="#f08a2c"/><rect x="94.3" y="239.7" width="2.8" height="2.8" fill="#f08a2c"/><rect x="90.4" y="239.6" width="2.8" height="2.8" fill="#f08a2c"/><rect x="96.6" y="233.6" width="2.8" height="2.8" fill="#f08a2c"/><rect x="99.4" y="239.2" width="2.8" height="2.8" fill="#f08a2c"/><rect x="95.9" y="236.3" width="2.8" height="2.8" fill="#f08a2c"/><rect x="101.8" y="239.6" width="2.8" height="2.8" fill="#f08a2c"/><rect x="98.2" y="234.2" width="2.8" height="2.8" fill="#f08a2c"/><rect x="94.4" y="234.8" width="2.8" height="2.8" fill="#f08a2c"/><rect x="101.3" y="239.0" width="2.8" height="2.8" fill="#f08a2c"/><rect x="99.7" y="241.9" width="2.8" height="2.8" fill="#f08a2c"/><rect x="97.1" y="235.6" width="2.8" height="2.8" fill="#f08a2c"/><rect x="96.8" y="243.8" width="2.8" height="2.8" fill="#f08a2c"/><rect x="89.7" y="238.0" width="2.8" height="2.8" fill="#f08a2c"/><ellipse cx="100.6" cy="238.6" rx="7.4" ry="5.9" fill="#f07a1c"/><ellipse cx="102.3" cy="239.6" rx="5.0" ry="3.9" fill="#e8141e"/><rect x="102.0" y="238.2" width="2.8" height="2.8" fill="#d0142a"/><rect x="107.0" y="240.5" width="2.8" height="2.8" fill="#d0142a"/><rect x="102.8" y="236.2" width="2.8" height="2.8" fill="#d0142a"/><rect x="102.1" y="237.3" width="2.8" height="2.8" fill="#d0142a"/><rect x="100.9" y="238.5" width="2.8" height="2.8" fill="#d0142a"/><rect x="99.6" y="239.4" width="2.8" height="2.8" fill="#d0142a"/><rect x="105.1" y="240.2" width="2.8" height="2.8" fill="#d0142a"/><rect x="101.4" y="234.0" width="2.8" height="2.8" fill="#d0142a"/><rect x="103.7" y="240.3" width="2.8" height="2.8" fill="#d0142a"/><rect x="100.3" y="237.1" width="2.8" height="2.8" fill="#d0142a"/><rect x="102.6" y="236.4" width="2.8" height="2.8" fill="#d0142a"/><rect x="102.9" y="235.8" width="2.8" height="2.8" fill="#d0142a"/><rect x="98.4" y="238.1" width="2.8" height="2.8" fill="#d0142a"/><rect x="97.0" y="238.1" width="2.8" height="2.8" fill="#d0142a"/><rect x="387.6" y="183.1" width="2.7" height="2.7" fill="#2c3a9e"/><rect x="399.0" y="184.3" width="2.7" height="2.7" fill="#2c3a9e"/><rect x="360.4" y="212.5" width="2.7" height="2.7" fill="#2c3a9e"/><rect x="378.2" y="192.3" width="2.7" height="2.7" fill="#2c3a9e"/><rect x="380.8" y="175.7" width="2.7" height="2.7" fill="#2c3a9e"/><rect x="374.4" y="162.2" width="2.7" height="2.7" fill="#2c3a9e"/><rect x="383.2" y="184.6" width="2.7" height="2.7" fill="#2c3a9e"/><rect x="391.6" y="180.2" width="2.7" height="2.7" fill="#2c3a9e"/><rect x="378.2" y="185.0" width="2.7" height="2.7" fill="#2c3a9e"/><rect x="384.0" y="187.5" width="2.7" height="2.7" fill="#2c3a9e"/><rect x="377.3" y="185.8" width="2.7" height="2.7" fill="#2c3a9e"/><rect x="368.0" y="196.2" width="2.7" height="2.7" fill="#2c3a9e"/><rect x="372.0" y="197.1" width="2.7" height="2.7" fill="#2c3a9e"/><rect x="386.7" y="193.6" width="2.7" height="2.7" fill="#2c3a9e"/><rect x="373.4" y="194.1" width="2.7" height="2.7" fill="#2c3a9e"/><rect x="384.9" y="176.2" width="2.7" height="2.7" fill="#2c3a9e"/><rect x="389.6" y="181.4" width="2.7" height="2.7" fill="#2c3a9e"/><rect x="386.0" y="168.5" width="2.7" height="2.7" fill="#2c3a9e"/><rect x="373.8" y="185.1" width="2.7" height="2.7" fill="#2c3a9e"/><rect x="391.5" y="182.1" width="2.7" height="2.7" fill="#2c3a9e"/><rect x="362.0" y="186.1" width="2.7" height="2.7" fill="#2c3a9e"/><rect x="378.4" y="204.1" width="2.7" height="2.7" fill="#2c3a9e"/><rect x="373.4" y="182.8" width="2.7" height="2.7" fill="#2c3a9e"/><rect x="371.3" y="176.9" width="2.7" height="2.7" fill="#2c3a9e"/><rect x="367.0" y="203.9" width="2.7" height="2.7" fill="#2c3a9e"/><rect x="365.1" y="203.9" width="2.7" height="2.7" fill="#2c3a9e"/><rect x="376.9" y="182.3" width="2.7" height="2.7" fill="#2c3a9e"/><rect x="364.0" y="187.7" width="2.7" height="2.7" fill="#2c3a9e"/><rect x="386.8" y="179.5" width="2.7" height="2.7" fill="#2c3a9e"/><rect x="381.0" y="186.5" width="2.7" height="2.7" fill="#2c3a9e"/><rect x="376.6" y="182.7" width="2.7" height="2.7" fill="#2c3a9e"/><rect x="379.3" y="187.7" width="2.7" height="2.7" fill="#2c3a9e"/><rect x="393.1" y="192.4" width="2.7" height="2.7" fill="#2c3a9e"/><rect x="378.7" y="193.2" width="2.7" height="2.7" fill="#2c3a9e"/><rect x="388.2" y="183.3" width="2.7" height="2.7" fill="#2c3a9e"/><rect x="382.8" y="204.4" width="2.7" height="2.7" fill="#2c3a9e"/><rect x="374.9" y="189.9" width="2.7" height="2.7" fill="#2c3a9e"/><rect x="377.3" y="200.5" width="2.7" height="2.7" fill="#2c3a9e"/><rect x="380.0" y="181.8" width="2.7" height="2.7" fill="#2c3a9e"/><rect x="387.4" y="200.3" width="2.7" height="2.7" fill="#2c3a9e"/><rect x="376.7" y="202.9" width="2.7" height="2.7" fill="#2c3a9e"/><rect x="403.8" y="186.2" width="2.7" height="2.7" fill="#2c3a9e"/><rect x="368.9" y="185.1" width="2.7" height="2.7" fill="#2c3a9e"/><rect x="371.1" y="183.4" width="2.7" height="2.7" fill="#2c3a9e"/><rect x="374.3" y="178.5" width="2.7" height="2.7" fill="#2c3a9e"/><rect x="385.7" y="168.9" width="2.7" height="2.7" fill="#2c3a9e"/><rect x="372.8" y="186.0" width="2.7" height="2.7" fill="#2c3a9e"/><rect x="380.0" y="180.1" width="2.7" height="2.7" fill="#2c3a9e"/><rect x="389.1" y="201.2" width="2.7" height="2.7" fill="#2c3a9e"/><rect x="364.9" y="199.1" width="2.7" height="2.7" fill="#2c3a9e"/><rect x="388.4" y="188.5" width="2.7" height="2.7" fill="#2c3a9e"/><rect x="389.4" y="185.8" width="2.7" height="2.7" fill="#2c3a9e"/><rect x="383.7" y="200.6" width="2.7" height="2.7" fill="#2c3a9e"/><rect x="371.7" y="182.4" width="2.7" height="2.7" fill="#2c3a9e"/><rect x="365.5" y="200.5" width="2.7" height="2.7" fill="#2c3a9e"/><rect x="374.3" y="211.3" width="2.7" height="2.7" fill="#2c3a9e"/><rect x="372.9" y="190.3" width="2.7" height="2.7" fill="#2c3a9e"/><rect x="384.8" y="187.0" width="2.7" height="2.7" fill="#2c3a9e"/><rect x="380.9" y="201.1" width="2.7" height="2.7" fill="#2c3a9e"/><rect x="383.3" y="191.0" width="2.7" height="2.7" fill="#2c3a9e"/><rect x="391.6" y="189.4" width="2.7" height="2.7" fill="#2c3a9e"/><rect x="392.7" y="205.5" width="2.7" height="2.7" fill="#2c3a9e"/><rect x="392.5" y="197.2" width="2.7" height="2.7" fill="#2c3a9e"/><rect x="388.9" y="177.9" width="2.7" height="2.7" fill="#2c3a9e"/><rect x="367.1" y="198.0" width="2.7" height="2.7" fill="#2c3a9e"/><rect x="384.3" y="184.5" width="2.7" height="2.7" fill="#2c3a9e"/><rect x="370.1" y="212.6" width="2.7" height="2.7" fill="#2c3a9e"/><rect x="386.5" y="192.5" width="2.7" height="2.7" fill="#2c3a9e"/><rect x="381.0" y="189.8" width="2.7" height="2.7" fill="#2c3a9e"/><rect x="371.3" y="191.0" width="2.7" height="2.7" fill="#2c3a9e"/><rect x="375.2" y="204.8" width="2.7" height="2.7" fill="#2c3a9e"/><rect x="384.9" y="199.0" width="2.7" height="2.7" fill="#2c3a9e"/><rect x="370.0" y="187.1" width="2.7" height="2.7" fill="#2c3a9e"/><rect x="380.1" y="190.5" width="2.7" height="2.7" fill="#2c3a9e"/><rect x="374.1" y="200.5" width="2.7" height="2.7" fill="#2c3a9e"/><rect x="388.3" y="192.6" width="2.7" height="2.7" fill="#2c3a9e"/><rect x="374.5" y="203.3" width="2.7" height="2.7" fill="#2c3a9e"/><rect x="368.4" y="183.5" width="2.7" height="2.7" fill="#2c3a9e"/><rect x="371.1" y="188.1" width="2.7" height="2.7" fill="#2c3a9e"/><rect x="392.6" y="185.4" width="2.7" height="2.7" fill="#2c3a9e"/><rect x="373.9" y="210.4" width="2.7" height="2.7" fill="#2c3a9e"/><rect x="367.0" y="183.7" width="2.7" height="2.7" fill="#2c3a9e"/><rect x="381.0" y="173.1" width="2.7" height="2.7" fill="#2c3a9e"/><rect x="367.5" y="188.5" width="2.7" height="2.7" fill="#2c3a9e"/><rect x="364.6" y="194.9" width="2.7" height="2.7" fill="#2c3a9e"/><rect x="392.3" y="201.9" width="2.7" height="2.7" fill="#2c3a9e"/><rect x="384.3" y="202.1" width="2.7" height="2.7" fill="#2c3a9e"/><rect x="383.6" y="182.1" width="2.7" height="2.7" fill="#2c3a9e"/><rect x="373.5" y="200.0" width="2.7" height="2.7" fill="#2c3a9e"/><rect x="379.9" y="188.6" width="2.7" height="2.7" fill="#2c3a9e"/><rect x="388.1" y="190.4" width="2.7" height="2.7" fill="#2c3a9e"/><rect x="392.0" y="188.6" width="2.7" height="2.7" fill="#2c3a9e"/><rect x="367.3" y="195.9" width="2.7" height="2.7" fill="#2c3a9e"/><rect x="393.8" y="184.2" width="2.7" height="2.7" fill="#2c3a9e"/><rect x="372.1" y="198.0" width="2.7" height="2.7" fill="#2c3a9e"/><rect x="365.5" y="200.7" width="2.7" height="2.7" fill="#2c3a9e"/><rect x="370.3" y="196.9" width="2.7" height="2.7" fill="#2c3a9e"/><rect x="374.6" y="183.0" width="2.7" height="2.7" fill="#2c3a9e"/><rect x="369.5" y="185.0" width="2.7" height="2.7" fill="#2c3a9e"/><rect x="390.8" y="197.4" width="2.7" height="2.7" fill="#2c3a9e"/><rect x="385.3" y="189.9" width="2.7" height="2.7" fill="#2c3a9e"/><rect x="385.9" y="193.6" width="2.7" height="2.7" fill="#2c3a9e"/><rect x="373.4" y="188.5" width="2.7" height="2.7" fill="#2c3a9e"/><rect x="400.8" y="185.8" width="2.7" height="2.7" fill="#2c3a9e"/><rect x="356.8" y="202.3" width="2.7" height="2.7" fill="#2c3a9e"/><rect x="361.2" y="199.4" width="2.7" height="2.7" fill="#2c3a9e"/><rect x="372.2" y="191.5" width="2.7" height="2.7" fill="#2c3a9e"/><rect x="374.4" y="206.9" width="2.7" height="2.7" fill="#2c3a9e"/><rect x="359.3" y="211.1" width="2.7" height="2.7" fill="#2c3a9e"/><rect x="378.9" y="204.3" width="2.7" height="2.7" fill="#2c3a9e"/><rect x="371.2" y="194.4" width="2.7" height="2.7" fill="#2c3a9e"/><rect x="353.8" y="202.8" width="2.7" height="2.7" fill="#2c3a9e"/><rect x="395.2" y="195.5" width="2.7" height="2.7" fill="#2c3a9e"/><rect x="395.1" y="187.9" width="2.7" height="2.7" fill="#2c3a9e"/><rect x="391.0" y="184.0" width="2.7" height="2.7" fill="#2c3a9e"/><rect x="378.3" y="198.7" width="2.7" height="2.7" fill="#2c3a9e"/><rect x="372.8" y="180.9" width="2.7" height="2.7" fill="#2c3a9e"/><rect x="371.0" y="200.5" width="2.7" height="2.7" fill="#2c3a9e"/><rect x="380.0" y="188.6" width="2.7" height="2.7" fill="#2c3a9e"/><rect x="380.1" y="203.7" width="2.7" height="2.7" fill="#2c3a9e"/><rect x="374.7" y="178.7" width="2.7" height="2.7" fill="#2c3a9e"/><rect x="375.9" y="193.0" width="2.7" height="2.7" fill="#2c3a9e"/><rect x="384.1" y="179.3" width="2.7" height="2.7" fill="#2c3a9e"/><rect x="386.2" y="185.3" width="2.7" height="2.7" fill="#2c3a9e"/><rect x="401.7" y="196.7" width="2.7" height="2.7" fill="#2c3a9e"/><rect x="374.9" y="213.4" width="2.7" height="2.7" fill="#2c3a9e"/><rect x="371.4" y="212.9" width="2.7" height="2.7" fill="#2c3a9e"/><rect x="380.5" y="185.7" width="2.7" height="2.7" fill="#2c3a9e"/><rect x="377.6" y="199.1" width="2.7" height="2.7" fill="#2c3a9e"/><rect x="380.7" y="186.1" width="2.7" height="2.7" fill="#2c3a9e"/><rect x="380.6" y="187.7" width="2.7" height="2.7" fill="#2c3a9e"/><rect x="379.8" y="188.8" width="2.7" height="2.7" fill="#2c3a9e"/><rect x="382.4" y="179.2" width="2.7" height="2.7" fill="#2c3a9e"/><rect x="383.4" y="186.5" width="2.7" height="2.7" fill="#2c3a9e"/><rect x="392.6" y="199.0" width="2.7" height="2.7" fill="#2c3a9e"/><rect x="375.8" y="202.4" width="2.7" height="2.7" fill="#2c3a9e"/><rect x="385.1" y="168.7" width="2.7" height="2.7" fill="#2c3a9e"/><rect x="386.6" y="197.7" width="2.7" height="2.7" fill="#2c3a9e"/><rect x="381.5" y="175.0" width="2.7" height="2.7" fill="#2c3a9e"/><rect x="373.4" y="178.6" width="2.7" height="2.7" fill="#2c3a9e"/><rect x="393.6" y="186.5" width="2.7" height="2.7" fill="#2c3a9e"/><rect x="379.1" y="188.3" width="2.7" height="2.7" fill="#2c3a9e"/><rect x="389.1" y="199.2" width="2.7" height="2.7" fill="#2c3a9e"/><rect x="376.6" y="185.6" width="2.7" height="2.7" fill="#2c3a9e"/><rect x="377.9" y="201.7" width="2.7" height="2.7" fill="#2c3a9e"/><rect x="382.0" y="204.2" width="2.7" height="2.7" fill="#2c3a9e"/><rect x="380.6" y="195.2" width="2.7" height="2.7" fill="#2c3a9e"/><rect x="381.2" y="195.5" width="2.7" height="2.7" fill="#2c3a9e"/><rect x="374.6" y="202.4" width="2.7" height="2.7" fill="#2c3a9e"/><rect x="398.4" y="173.7" width="2.7" height="2.7" fill="#2c3a9e"/><rect x="372.3" y="199.7" width="2.7" height="2.7" fill="#2c3a9e"/><rect x="380.7" y="198.1" width="2.7" height="2.7" fill="#2c3a9e"/><rect x="395.1" y="168.2" width="2.7" height="2.7" fill="#2c3a9e"/><rect x="360.9" y="180.5" width="2.7" height="2.7" fill="#2c3a9e"/><rect x="385.7" y="185.8" width="2.7" height="2.7" fill="#2c3a9e"/><rect x="389.1" y="191.6" width="2.7" height="2.7" fill="#2c3a9e"/><rect x="383.3" y="199.6" width="2.7" height="2.7" fill="#2c3a9e"/><rect x="364.4" y="197.9" width="2.7" height="2.7" fill="#2c3a9e"/><rect x="368.0" y="204.3" width="2.7" height="2.7" fill="#2c3a9e"/><rect x="379.5" y="191.6" width="2.7" height="2.7" fill="#2c3a9e"/><rect x="394.1" y="201.7" width="2.7" height="2.7" fill="#2c3a9e"/><rect x="367.7" y="214.3" width="2.7" height="2.7" fill="#2c3a9e"/><rect x="387.3" y="198.1" width="2.7" height="2.7" fill="#2c3a9e"/><rect x="369.0" y="190.1" width="2.7" height="2.7" fill="#2c3a9e"/><rect x="388.7" y="187.1" width="2.7" height="2.7" fill="#2c3a9e"/><rect x="367.6" y="176.3" width="2.7" height="2.7" fill="#2c3a9e"/><rect x="404.2" y="159.2" width="2.7" height="2.7" fill="#2c3a9e"/><rect x="409.9" y="152.9" width="2.7" height="2.7" fill="#2c3a9e"/><rect x="408.7" y="148.3" width="2.7" height="2.7" fill="#2c3a9e"/><rect x="377.7" y="193.6" width="2.7" height="2.7" fill="#2c3a9e"/><rect x="407.2" y="169.0" width="2.7" height="2.7" fill="#2c3a9e"/><rect x="414.1" y="163.9" width="2.7" height="2.7" fill="#2c3a9e"/><rect x="406.8" y="159.7" width="2.7" height="2.7" fill="#2c3a9e"/><rect x="394.9" y="162.8" width="2.7" height="2.7" fill="#2c3a9e"/><rect x="386.7" y="184.1" width="2.7" height="2.7" fill="#2c3a9e"/><rect x="402.0" y="174.5" width="2.7" height="2.7" fill="#2c3a9e"/><rect x="396.7" y="166.5" width="2.7" height="2.7" fill="#2c3a9e"/><rect x="407.6" y="161.2" width="2.7" height="2.7" fill="#2c3a9e"/><rect x="404.3" y="156.3" width="2.7" height="2.7" fill="#2c3a9e"/><rect x="398.7" y="167.2" width="2.7" height="2.7" fill="#2c3a9e"/><rect x="409.4" y="157.9" width="2.7" height="2.7" fill="#2c3a9e"/><rect x="390.6" y="174.0" width="2.7" height="2.7" fill="#2c3a9e"/><rect x="393.8" y="170.3" width="2.7" height="2.7" fill="#2c3a9e"/><rect x="404.1" y="169.0" width="2.7" height="2.7" fill="#2c3a9e"/><rect x="410.5" y="164.5" width="2.7" height="2.7" fill="#2c3a9e"/><rect x="391.0" y="160.2" width="2.7" height="2.7" fill="#2c3a9e"/><rect x="400.0" y="140.0" width="2.7" height="2.7" fill="#2c3a9e"/><rect x="399.9" y="155.9" width="2.7" height="2.7" fill="#2c3a9e"/><rect x="397.8" y="180.0" width="2.7" height="2.7" fill="#2c3a9e"/><rect x="401.2" y="163.6" width="2.7" height="2.7" fill="#2c3a9e"/><rect x="387.1" y="166.8" width="2.7" height="2.7" fill="#2c3a9e"/><rect x="397.7" y="180.0" width="2.7" height="2.7" fill="#2c3a9e"/><rect x="388.6" y="179.0" width="2.7" height="2.7" fill="#2c3a9e"/><rect x="415.6" y="154.1" width="2.7" height="2.7" fill="#2c3a9e"/><rect x="412.9" y="160.6" width="2.7" height="2.7" fill="#2c3a9e"/><rect x="388.3" y="182.1" width="2.7" height="2.7" fill="#2c3a9e"/><rect x="407.1" y="150.2" width="2.7" height="2.7" fill="#2c3a9e"/><rect x="411.5" y="158.1" width="2.7" height="2.7" fill="#2c3a9e"/><rect x="397.8" y="168.6" width="2.7" height="2.7" fill="#2c3a9e"/><rect x="398.4" y="152.3" width="2.7" height="2.7" fill="#2c3a9e"/><rect x="358.1" y="212.9" width="2.7" height="2.7" fill="#2c3a9e"/><rect x="350.8" y="215.7" width="2.7" height="2.7" fill="#2c3a9e"/><rect x="366.4" y="206.4" width="2.7" height="2.7" fill="#2c3a9e"/><rect x="381.2" y="209.2" width="2.7" height="2.7" fill="#2c3a9e"/><rect x="364.4" y="208.8" width="2.7" height="2.7" fill="#2c3a9e"/><rect x="366.2" y="209.9" width="2.7" height="2.7" fill="#2c3a9e"/><rect x="357.4" y="216.8" width="2.7" height="2.7" fill="#2c3a9e"/><rect x="357.0" y="212.5" width="2.7" height="2.7" fill="#2c3a9e"/><rect x="373.0" y="205.4" width="2.7" height="2.7" fill="#2c3a9e"/><rect x="365.0" y="198.1" width="2.7" height="2.7" fill="#2c3a9e"/><rect x="366.8" y="207.5" width="2.7" height="2.7" fill="#2c3a9e"/><rect x="358.8" y="211.5" width="2.7" height="2.7" fill="#2c3a9e"/><rect x="355.3" y="213.3" width="2.7" height="2.7" fill="#2c3a9e"/><rect x="358.0" y="214.9" width="2.7" height="2.7" fill="#2c3a9e"/><rect x="354.1" y="211.7" width="2.7" height="2.7" fill="#2c3a9e"/><rect x="363.2" y="203.2" width="2.7" height="2.7" fill="#2c3a9e"/><rect x="356.2" y="210.1" width="2.7" height="2.7" fill="#2c3a9e"/><rect x="362.9" y="215.0" width="2.7" height="2.7" fill="#2c3a9e"/><rect x="370.1" y="210.6" width="2.7" height="2.7" fill="#2c3a9e"/><rect x="368.8" y="209.3" width="2.7" height="2.7" fill="#2c3a9e"/><rect x="305.9" y="224.6" width="2.7" height="2.7" fill="#2c3a9e"/><rect x="310.4" y="218.6" width="2.7" height="2.7" fill="#2c3a9e"/><rect x="311.8" y="219.8" width="2.7" height="2.7" fill="#2c3a9e"/><rect x="320.3" y="230.2" width="2.7" height="2.7" fill="#2c3a9e"/><rect x="311.4" y="231.2" width="2.7" height="2.7" fill="#2c3a9e"/><rect x="315.7" y="219.0" width="2.7" height="2.7" fill="#2c3a9e"/><rect x="327.9" y="236.1" width="2.7" height="2.7" fill="#2c3a9e"/><rect x="321.5" y="220.2" width="2.7" height="2.7" fill="#2c3a9e"/><rect x="311.2" y="239.6" width="2.7" height="2.7" fill="#2c3a9e"/><rect x="325.6" y="223.2" width="2.7" height="2.7" fill="#2c3a9e"/><rect x="311.4" y="229.7" width="2.7" height="2.7" fill="#2c3a9e"/><rect x="323.7" y="235.2" width="2.7" height="2.7" fill="#2c3a9e"/><rect x="309.9" y="229.5" width="2.7" height="2.7" fill="#2c3a9e"/><rect x="325.8" y="223.5" width="2.7" height="2.7" fill="#2c3a9e"/><rect x="322.6" y="228.1" width="2.7" height="2.7" fill="#2c3a9e"/><rect x="327.0" y="222.8" width="2.7" height="2.7" fill="#2c3a9e"/><rect x="323.4" y="222.9" width="2.7" height="2.7" fill="#2c3a9e"/><rect x="311.6" y="226.9" width="2.7" height="2.7" fill="#2c3a9e"/><rect x="309.8" y="235.0" width="2.7" height="2.7" fill="#2c3a9e"/><rect x="318.5" y="219.5" width="2.7" height="2.7" fill="#2c3a9e"/><rect x="306.4" y="214.8" width="2.7" height="2.7" fill="#2c3a9e"/><rect x="315.0" y="223.8" width="2.7" height="2.7" fill="#2c3a9e"/><rect x="320.7" y="222.7" width="2.7" height="2.7" fill="#2c3a9e"/><rect x="315.0" y="240.4" width="2.7" height="2.7" fill="#2c3a9e"/><rect x="319.1" y="241.7" width="2.7" height="2.7" fill="#2c3a9e"/><rect x="300.8" y="223.9" width="2.7" height="2.7" fill="#2c3a9e"/><rect x="319.1" y="213.8" width="2.7" height="2.7" fill="#2c3a9e"/><rect x="312.3" y="228.4" width="2.7" height="2.7" fill="#2c3a9e"/><rect x="323.0" y="226.6" width="2.7" height="2.7" fill="#2c3a9e"/><rect x="307.4" y="220.5" width="2.7" height="2.7" fill="#2c3a9e"/><rect x="315.5" y="217.5" width="2.7" height="2.7" fill="#2c3a9e"/><rect x="322.2" y="226.4" width="2.7" height="2.7" fill="#2c3a9e"/><rect x="317.6" y="217.9" width="2.7" height="2.7" fill="#2c3a9e"/><rect x="317.6" y="222.6" width="2.7" height="2.7" fill="#2c3a9e"/><rect x="325.5" y="232.1" width="2.7" height="2.7" fill="#2c3a9e"/><rect x="313.6" y="221.0" width="2.7" height="2.7" fill="#2c3a9e"/><rect x="314.1" y="219.5" width="2.7" height="2.7" fill="#2c3a9e"/><rect x="316.4" y="221.5" width="2.7" height="2.7" fill="#2c3a9e"/><rect x="310.8" y="220.9" width="2.7" height="2.7" fill="#2c3a9e"/><rect x="317.8" y="216.2" width="2.7" height="2.7" fill="#2c3a9e"/><rect x="320.9" y="241.5" width="2.7" height="2.7" fill="#2c3a9e"/><rect x="319.6" y="229.0" width="2.7" height="2.7" fill="#2c3a9e"/><rect x="329.9" y="223.3" width="2.7" height="2.7" fill="#2c3a9e"/><rect x="311.4" y="222.2" width="2.7" height="2.7" fill="#2c3a9e"/><rect x="318.6" y="215.8" width="2.7" height="2.7" fill="#2c3a9e"/><rect x="312.0" y="217.4" width="2.7" height="2.7" fill="#2c3a9e"/><rect x="309.3" y="218.3" width="2.7" height="2.7" fill="#2c3a9e"/><rect x="307.0" y="225.6" width="2.7" height="2.7" fill="#2c3a9e"/><rect x="300.3" y="240.4" width="2.7" height="2.7" fill="#2c3a9e"/><rect x="317.9" y="214.7" width="2.7" height="2.7" fill="#2c3a9e"/><rect x="315.4" y="227.4" width="2.7" height="2.7" fill="#2c3a9e"/><rect x="318.6" y="226.5" width="2.7" height="2.7" fill="#2c3a9e"/><rect x="321.2" y="225.4" width="2.7" height="2.7" fill="#2c3a9e"/><rect x="317.0" y="226.3" width="2.7" height="2.7" fill="#2c3a9e"/><rect x="323.1" y="223.6" width="2.7" height="2.7" fill="#2c3a9e"/><rect x="321.2" y="223.3" width="2.7" height="2.7" fill="#2c3a9e"/><rect x="320.1" y="235.7" width="2.7" height="2.7" fill="#2c3a9e"/><rect x="315.0" y="233.1" width="2.7" height="2.7" fill="#2c3a9e"/><rect x="320.9" y="226.6" width="2.7" height="2.7" fill="#2c3a9e"/><rect x="320.7" y="226.3" width="2.7" height="2.7" fill="#2c3a9e"/><rect x="315.7" y="234.6" width="2.7" height="2.7" fill="#2c3a9e"/><rect x="319.7" y="220.0" width="2.7" height="2.7" fill="#2c3a9e"/><rect x="317.6" y="214.5" width="2.7" height="2.7" fill="#2c3a9e"/><rect x="317.6" y="233.0" width="2.7" height="2.7" fill="#2c3a9e"/><rect x="320.0" y="228.5" width="2.7" height="2.7" fill="#2c3a9e"/><rect x="320.8" y="233.1" width="2.7" height="2.7" fill="#2c3a9e"/><rect x="297.0" y="226.1" width="2.7" height="2.7" fill="#2c3a9e"/><rect x="322.0" y="221.0" width="2.7" height="2.7" fill="#2c3a9e"/><rect x="312.9" y="223.6" width="2.7" height="2.7" fill="#2c3a9e"/><rect x="312.1" y="230.9" width="2.7" height="2.7" fill="#2c3a9e"/><rect x="321.7" y="222.1" width="2.7" height="2.7" fill="#2c3a9e"/><rect x="318.5" y="220.8" width="2.7" height="2.7" fill="#2c3a9e"/><rect x="310.0" y="224.3" width="2.7" height="2.7" fill="#2c3a9e"/><rect x="315.1" y="220.7" width="2.7" height="2.7" fill="#2c3a9e"/><rect x="324.1" y="219.8" width="2.7" height="2.7" fill="#2c3a9e"/><rect x="313.3" y="224.1" width="2.7" height="2.7" fill="#2c3a9e"/><rect x="315.3" y="214.5" width="2.7" height="2.7" fill="#2c3a9e"/><rect x="315.4" y="233.4" width="2.7" height="2.7" fill="#2c3a9e"/><rect x="320.0" y="229.5" width="2.7" height="2.7" fill="#2c3a9e"/><rect x="311.3" y="220.5" width="2.7" height="2.7" fill="#2c3a9e"/><rect x="306.8" y="227.9" width="2.7" height="2.7" fill="#2c3a9e"/><rect x="309.9" y="228.2" width="2.7" height="2.7" fill="#2c3a9e"/><rect x="314.8" y="230.2" width="2.7" height="2.7" fill="#2c3a9e"/><rect x="323.8" y="223.6" width="2.7" height="2.7" fill="#2c3a9e"/><rect x="317.6" y="217.2" width="2.7" height="2.7" fill="#2c3a9e"/><rect x="320.5" y="222.0" width="2.7" height="2.7" fill="#2c3a9e"/><rect x="319.1" y="229.3" width="2.7" height="2.7" fill="#2c3a9e"/><rect x="314.8" y="225.7" width="2.7" height="2.7" fill="#2c3a9e"/><rect x="315.9" y="228.5" width="2.7" height="2.7" fill="#2c3a9e"/><rect x="318.5" y="225.2" width="2.7" height="2.7" fill="#2c3a9e"/><rect x="310.4" y="214.8" width="2.7" height="2.7" fill="#2c3a9e"/><rect x="317.3" y="225.9" width="2.7" height="2.7" fill="#2c3a9e"/><rect x="302.4" y="233.1" width="2.7" height="2.7" fill="#2c3a9e"/><rect x="324.2" y="225.9" width="2.7" height="2.7" fill="#2c3a9e"/><rect x="322.3" y="225.0" width="2.7" height="2.7" fill="#2c3a9e"/><rect x="317.1" y="224.6" width="2.7" height="2.7" fill="#2c3a9e"/><rect x="309.5" y="230.7" width="2.7" height="2.7" fill="#2c3a9e"/><rect x="320.4" y="208.8" width="2.7" height="2.7" fill="#2c3a9e"/><rect x="318.2" y="225.3" width="2.7" height="2.7" fill="#2c3a9e"/><rect x="321.3" y="226.4" width="2.7" height="2.7" fill="#2c3a9e"/><rect x="320.4" y="221.2" width="2.7" height="2.7" fill="#2c3a9e"/><rect x="310.4" y="226.6" width="2.7" height="2.7" fill="#2c3a9e"/><rect x="319.2" y="223.4" width="2.7" height="2.7" fill="#2c3a9e"/><rect x="323.9" y="219.0" width="2.7" height="2.7" fill="#2c3a9e"/><rect x="322.5" y="222.4" width="2.7" height="2.7" fill="#2c3a9e"/><rect x="308.4" y="234.6" width="2.7" height="2.7" fill="#2c3a9e"/><rect x="321.2" y="215.3" width="2.7" height="2.7" fill="#2c3a9e"/><rect x="320.7" y="223.2" width="2.7" height="2.7" fill="#2c3a9e"/><rect x="314.6" y="236.6" width="2.7" height="2.7" fill="#2c3a9e"/><rect x="316.0" y="230.6" width="2.7" height="2.7" fill="#2c3a9e"/><rect x="320.5" y="220.1" width="2.7" height="2.7" fill="#2c3a9e"/><rect x="324.2" y="226.4" width="2.7" height="2.7" fill="#2c3a9e"/><rect x="323.0" y="226.8" width="2.7" height="2.7" fill="#2c3a9e"/><rect x="307.1" y="228.3" width="2.7" height="2.7" fill="#2c3a9e"/><rect x="315.6" y="222.1" width="2.7" height="2.7" fill="#2c3a9e"/><rect x="311.2" y="230.9" width="2.7" height="2.7" fill="#2c3a9e"/><rect x="315.1" y="226.0" width="2.7" height="2.7" fill="#2c3a9e"/><rect x="316.7" y="212.0" width="2.7" height="2.7" fill="#2c3a9e"/><rect x="315.4" y="229.1" width="2.7" height="2.7" fill="#2c3a9e"/><rect x="320.0" y="231.1" width="2.7" height="2.7" fill="#2c3a9e"/><rect x="314.5" y="226.8" width="2.7" height="2.7" fill="#2c3a9e"/><rect x="320.6" y="223.5" width="2.7" height="2.7" fill="#2c3a9e"/><rect x="310.1" y="224.8" width="2.7" height="2.7" fill="#2c3a9e"/><rect x="320.1" y="223.5" width="2.7" height="2.7" fill="#2c3a9e"/><rect x="322.9" y="232.5" width="2.7" height="2.7" fill="#2c3a9e"/><rect x="322.0" y="217.8" width="2.7" height="2.7" fill="#2c3a9e"/><rect x="313.7" y="213.5" width="2.7" height="2.7" fill="#2c3a9e"/><rect x="327.1" y="219.0" width="2.7" height="2.7" fill="#2c3a9e"/><rect x="319.5" y="229.5" width="2.7" height="2.7" fill="#2c3a9e"/><rect x="325.3" y="220.3" width="2.7" height="2.7" fill="#2c3a9e"/><rect x="320.6" y="223.0" width="2.7" height="2.7" fill="#2c3a9e"/><rect x="315.8" y="232.4" width="2.7" height="2.7" fill="#2c3a9e"/><rect x="305.5" y="228.5" width="2.7" height="2.7" fill="#2c3a9e"/><rect x="307.2" y="228.8" width="2.7" height="2.7" fill="#2c3a9e"/><rect x="319.5" y="227.6" width="2.7" height="2.7" fill="#2c3a9e"/><rect x="332.0" y="228.1" width="2.7" height="2.7" fill="#2c3a9e"/><rect x="320.6" y="207.4" width="2.7" height="2.7" fill="#2c3a9e"/><rect x="322.4" y="222.0" width="2.7" height="2.7" fill="#2c3a9e"/><rect x="318.4" y="227.0" width="2.7" height="2.7" fill="#2c3a9e"/><rect x="313.4" y="221.3" width="2.7" height="2.7" fill="#2c3a9e"/><rect x="308.4" y="227.3" width="2.7" height="2.7" fill="#2c3a9e"/><rect x="314.2" y="232.3" width="2.7" height="2.7" fill="#2c3a9e"/><rect x="310.5" y="228.0" width="2.7" height="2.7" fill="#2c3a9e"/><rect x="316.4" y="228.0" width="2.7" height="2.7" fill="#2c3a9e"/><rect x="325.4" y="230.2" width="2.7" height="2.7" fill="#2c3a9e"/><rect x="318.5" y="221.0" width="2.7" height="2.7" fill="#2c3a9e"/><rect x="326.8" y="226.5" width="2.7" height="2.7" fill="#2c3a9e"/><rect x="321.5" y="215.8" width="2.7" height="2.7" fill="#2c3a9e"/><rect x="310.4" y="224.7" width="2.7" height="2.7" fill="#2c3a9e"/><rect x="313.7" y="222.5" width="2.7" height="2.7" fill="#2c3a9e"/><rect x="332.4" y="194.9" width="2.7" height="2.7" fill="#2c3a9e"/><rect x="327.0" y="238.8" width="2.7" height="2.7" fill="#2c3a9e"/><rect x="356.2" y="208.2" width="2.7" height="2.7" fill="#2c3a9e"/><rect x="353.8" y="211.2" width="2.7" height="2.7" fill="#2c3a9e"/><rect x="325.7" y="228.0" width="2.7" height="2.7" fill="#2c3a9e"/><rect x="338.3" y="197.6" width="2.7" height="2.7" fill="#2c3a9e"/><rect x="358.4" y="233.3" width="2.7" height="2.7" fill="#2c3a9e"/><rect x="355.4" y="202.7" width="2.7" height="2.7" fill="#2c3a9e"/><rect x="330.8" y="197.3" width="2.7" height="2.7" fill="#2c3a9e"/><rect x="328.1" y="210.7" width="2.7" height="2.7" fill="#2c3a9e"/><rect x="328.7" y="204.2" width="2.7" height="2.7" fill="#2c3a9e"/><rect x="320.9" y="212.0" width="2.7" height="2.7" fill="#2c3a9e"/><rect x="351.6" y="197.0" width="2.7" height="2.7" fill="#2c3a9e"/><rect x="354.2" y="214.0" width="2.7" height="2.7" fill="#2c3a9e"/><rect x="315.8" y="208.6" width="2.7" height="2.7" fill="#2c3a9e"/><rect x="322.9" y="206.4" width="2.7" height="2.7" fill="#2c3a9e"/><rect x="318.1" y="206.8" width="2.7" height="2.7" fill="#2c3a9e"/><rect x="324.7" y="209.1" width="2.7" height="2.7" fill="#2c3a9e"/><rect x="316.6" y="203.0" width="2.7" height="2.7" fill="#2c3a9e"/><rect x="318.3" y="203.6" width="2.7" height="2.7" fill="#2c3a9e"/><rect x="327.1" y="220.7" width="2.7" height="2.7" fill="#2c3a9e"/><rect x="362.2" y="213.9" width="2.7" height="2.7" fill="#2c3a9e"/><rect x="338.0" y="228.7" width="2.7" height="2.7" fill="#2c3a9e"/><rect x="349.4" y="217.9" width="2.7" height="2.7" fill="#2c3a9e"/><rect x="332.1" y="234.8" width="2.7" height="2.7" fill="#2c3a9e"/><rect x="343.2" y="237.8" width="2.7" height="2.7" fill="#2c3a9e"/><rect x="330.3" y="225.7" width="2.7" height="2.7" fill="#2c3a9e"/><rect x="349.0" y="227.8" width="2.7" height="2.7" fill="#2c3a9e"/><rect x="330.5" y="227.7" width="2.7" height="2.7" fill="#2c3a9e"/><rect x="323.6" y="219.7" width="2.7" height="2.7" fill="#2c3a9e"/><ellipse cx="318.4" cy="226" rx="6.8" ry="7.4" fill="#f4a41c"/><rect x="320.7" y="227.8" width="2.6" height="2.6" fill="#f7c531"/><rect x="319.9" y="226.3" width="2.6" height="2.6" fill="#f7c531"/><rect x="314.8" y="218.6" width="2.6" height="2.6" fill="#f7c531"/><rect x="325.9" y="228.8" width="2.6" height="2.6" fill="#f7c531"/><rect x="313.8" y="226.4" width="2.6" height="2.6" fill="#f7c531"/><rect x="321.8" y="220.8" width="2.6" height="2.6" fill="#f7c531"/><rect x="312.7" y="229.0" width="2.6" height="2.6" fill="#f7c531"/><rect x="322.5" y="225.2" width="2.6" height="2.6" fill="#f7c531"/><rect x="315.3" y="230.3" width="2.6" height="2.6" fill="#f7c531"/><rect x="319.0" y="223.9" width="2.6" height="2.6" fill="#f7c531"/><rect x="311.1" y="220.3" width="2.6" height="2.6" fill="#f7c531"/><rect x="321.8" y="221.9" width="2.6" height="2.6" fill="#f7c531"/><rect x="319.1" y="229.0" width="2.6" height="2.6" fill="#f7c531"/><rect x="309.8" y="220.0" width="2.6" height="2.6" fill="#f7c531"/><rect x="317.3" y="220.4" width="2.6" height="2.6" fill="#f7c531"/><rect x="313.8" y="228.6" width="2.6" height="2.6" fill="#f7c531"/><rect x="310.3" y="224.8" width="2.6" height="2.6" fill="#f7c531"/><rect x="317.0" y="216.0" width="2.6" height="2.6" fill="#f7c531"/><rect x="313.1" y="219.7" width="2.6" height="2.6" fill="#f7c531"/><rect x="320.0" y="215.3" width="2.6" height="2.6" fill="#f7c531"/><rect x="317.0" y="217.1" width="2.6" height="2.6" fill="#f7c531"/><rect x="315.4" y="218.3" width="2.6" height="2.6" fill="#f7c531"/><rect x="317.7" y="229.5" width="2.6" height="2.6" fill="#f7c531"/><rect x="320.2" y="224.6" width="2.6" height="2.6" fill="#f7c531"/><rect x="322.1" y="226.3" width="2.6" height="2.6" fill="#f7c531"/><rect x="320.1" y="220.2" width="2.4" height="2.4" fill="#d0142a"/><rect x="314.9" y="224.2" width="2.4" height="2.4" fill="#d0142a"/><rect x="318.3" y="225.5" width="2.4" height="2.4" fill="#d0142a"/><rect x="319.0" y="224.0" width="2.4" height="2.4" fill="#d0142a"/><rect x="313.5" y="220.6" width="2.4" height="2.4" fill="#d0142a"/><rect x="319.6" y="222.5" width="2.4" height="2.4" fill="#d0142a"/><rect x="317.2" y="225.4" width="2.4" height="2.4" fill="#d0142a"/><rect x="317.2" y="222.4" width="2.4" height="2.4" fill="#d0142a"/><rect x="316.0" y="227.1" width="2.4" height="2.4" fill="#d0142a"/><rect x="318.2" y="222.6" width="2.4" height="2.4" fill="#d0142a"/><rect x="403.5" y="178.2" width="2.6" height="2.6" fill="#f7c531"/><rect x="397.3" y="174.9" width="2.6" height="2.6" fill="#f7c531"/><rect x="402.9" y="173.1" width="2.6" height="2.6" fill="#f7c531"/><rect x="398.7" y="175.9" width="2.6" height="2.6" fill="#f7c531"/><rect x="395.2" y="179.0" width="2.6" height="2.6" fill="#f7c531"/><rect x="430.3" y="267.2" width="2.7" height="2.7" fill="#2c3a9e"/><rect x="137.8" y="137.9" width="2.8" height="2.8" fill="#2c3a9e"/><rect x="152.1" y="141.1" width="2.8" height="2.8" fill="#2c3a9e"/><rect x="162.1" y="260.6" width="2.8" height="2.8" fill="#2c3a9e"/><rect x="177.1" y="253.1" width="2.8" height="2.8" fill="#2c3a9e"/></g>
<text transform="translate(11.52,28.0) scale(1.0092,1)" font-size="19.2" font-weight="bold" stroke="#000" stroke-width="0.8">A</text><text transform="translate(201.6,53.6) scale(1.0,1)" font-size="15.9">V<tspan font-family="Liberation Serif" font-size="16.5">δ</tspan>2 Gated</text><line x1="65" y1="62.5" x2="413.6" y2="62.5" stroke="#000" stroke-width="1.5"/><text transform="translate(127.26,80.7) scale(1.0332,1)" font-size="12.3"  stroke="#111" stroke-width="0.1">No-VR</text><text transform="translate(342.64,81.0) scale(1.0609,1)" font-size="12.3"  stroke="#111" stroke-width="0.1">CMV-R</text><rect x="58" y="90" width="181.5" height="181" fill="none" stroke="#878787" stroke-width="1.5"/><rect x="276" y="90" width="181.5" height="181" fill="none" stroke="#878787" stroke-width="1.5"/><line x1="126.5" y1="90" x2="126.5" y2="271" stroke="#111" stroke-width="1.5"/><line x1="58" y1="218.5" x2="239.5" y2="218.5" stroke="#111" stroke-width="1.5"/><line x1="356.8" y1="90" x2="356.8" y2="271" stroke="#333" stroke-width="1.5"/><line x1="276" y1="210.9" x2="457.5" y2="210.9" stroke="#222" stroke-width="1.5"/><line x1="53" y1="107" x2="58" y2="107" stroke="#333" stroke-width="1.5"/><line x1="53" y1="149.2" x2="58" y2="149.2" stroke="#333" stroke-width="1.5"/><line x1="53" y1="192.8" x2="58" y2="192.8" stroke="#333" stroke-width="1.5"/><line x1="55.5" y1="136.49653418297999" x2="58" y2="136.49653418297999" stroke="#555" stroke-width="1.0"/><line x1="55.5" y1="129.06548305083024" x2="58" y2="129.06548305083024" stroke="#555" stroke-width="1.0"/><line x1="55.5" y1="123.79306836595998" x2="58" y2="123.79306836595998" stroke="#555" stroke-width="1.0"/><line x1="55.5" y1="119.70346581702" x2="58" y2="119.70346581702" stroke="#555" stroke-width="1.0"/><line x1="55.5" y1="116.36201723381023" x2="58" y2="116.36201723381023" stroke="#555" stroke-width="1.0"/><line x1="55.5" y1="113.53686271139836" x2="58" y2="113.53686271139836" stroke="#555" stroke-width="1.0"/><line x1="55.5" y1="111.08960254893998" x2="58" y2="111.08960254893998" stroke="#555" stroke-width="1.0"/><line x1="55.5" y1="108.93096610166049" x2="58" y2="108.93096610166049" stroke="#555" stroke-width="1.0"/><line x1="55.5" y1="179.67509218905042" x2="58" y2="179.67509218905042" stroke="#555" stroke-width="1.0"/><line x1="55.5" y1="171.99751329422273" x2="58" y2="171.99751329422273" stroke="#555" stroke-width="1.0"/><line x1="55.5" y1="166.55018437810082" x2="58" y2="166.55018437810082" stroke="#555" stroke-width="1.0"/><line x1="55.5" y1="162.32490781094958" x2="58" y2="162.32490781094958" stroke="#555" stroke-width="1.0"/><line x1="55.5" y1="158.87260548327313" x2="58" y2="158.87260548327313" stroke="#555" stroke-width="1.0"/><line x1="55.5" y1="155.9537254553784" x2="58" y2="155.9537254553784" stroke="#555" stroke-width="1.0"/><line x1="55.5" y1="153.42527656715126" x2="58" y2="153.42527656715126" stroke="#555" stroke-width="1.0"/><line x1="55.5" y1="151.19502658844542" x2="58" y2="151.19502658844542" stroke="#555" stroke-width="1.0"/><line x1="55.5" y1="94.29653418298" x2="58" y2="94.29653418298" stroke="#555" stroke-width="1.0"/><line x1="53.5" y1="239.4" x2="58" y2="239.4" stroke="#111" stroke-width="1.0"/><line x1="53.5" y1="240.7" x2="58" y2="240.7" stroke="#111" stroke-width="1.0"/><line x1="53.5" y1="242" x2="58" y2="242" stroke="#111" stroke-width="1.0"/><line x1="53.5" y1="243.3" x2="58" y2="243.3" stroke="#111" stroke-width="1.0"/><line x1="53.5" y1="244.6" x2="58" y2="244.6" stroke="#111" stroke-width="1.0"/><line x1="55.5" y1="195.4" x2="58" y2="195.4" stroke="#444" stroke-width="1.0"/><line x1="55.5" y1="196.9" x2="58" y2="196.9" stroke="#444" stroke-width="1.0"/><line x1="55.5" y1="198.5" x2="58" y2="198.5" stroke="#444" stroke-width="1.0"/><line x1="55.5" y1="200.6" x2="58" y2="200.6" stroke="#444" stroke-width="1.0"/><line x1="55.5" y1="203.2" x2="58" y2="203.2" stroke="#444" stroke-width="1.0"/><line x1="55.5" y1="207.3" x2="58" y2="207.3" stroke="#444" stroke-width="1.0"/><line x1="55.5" y1="212.5" x2="58" y2="212.5" stroke="#444" stroke-width="1.0"/><line x1="55.5" y1="225.4" x2="58" y2="225.4" stroke="#444" stroke-width="1.0"/><line x1="55.5" y1="235.2" x2="58" y2="235.2" stroke="#444" stroke-width="1.0"/><line x1="55.5" y1="237.3" x2="58" y2="237.3" stroke="#444" stroke-width="1.0"/><line x1="55.5" y1="245.1" x2="58" y2="245.1" stroke="#444" stroke-width="1.0"/><line x1="55.5" y1="248.2" x2="58" y2="248.2" stroke="#444" stroke-width="1.0"/><line x1="55.5" y1="259.7" x2="58" y2="259.7" stroke="#444" stroke-width="1.0"/><line x1="55.5" y1="266.4" x2="58" y2="266.4" stroke="#444" stroke-width="1.0"/><line x1="53.5" y1="233.2" x2="58" y2="233.2" stroke="#333" stroke-width="1.2"/><line x1="53.5" y1="250.8" x2="58" y2="250.8" stroke="#333" stroke-width="1.2"/><line x1="271" y1="105.3" x2="276" y2="105.3" stroke="#333" stroke-width="1.5"/><line x1="271" y1="143.0" x2="276" y2="143.0" stroke="#333" stroke-width="1.5"/><line x1="271" y1="182.5" x2="276" y2="182.5" stroke="#333" stroke-width="1.5"/><line x1="273.5" y1="131.6511691634679" x2="276" y2="131.6511691634679" stroke="#555" stroke-width="1.0"/><line x1="273.5" y1="125.01252869706872" x2="276" y2="125.01252869706872" stroke="#555" stroke-width="1.0"/><line x1="273.5" y1="120.30233832693581" x2="276" y2="120.30233832693581" stroke="#555" stroke-width="1.0"/><line x1="273.5" y1="116.64883083653208" x2="276" y2="116.64883083653208" stroke="#555" stroke-width="1.0"/><line x1="273.5" y1="113.66369786053663" x2="276" y2="113.66369786053663" stroke="#555" stroke-width="1.0"/><line x1="273.5" y1="111.13980389146252" x2="276" y2="111.13980389146252" stroke="#555" stroke-width="1.0"/><line x1="273.5" y1="108.95350749040372" x2="276" y2="108.95350749040372" stroke="#555" stroke-width="1.0"/><line x1="273.5" y1="107.02505739413745" x2="276" y2="107.02505739413745" stroke="#555" stroke-width="1.0"/><line x1="273.5" y1="170.60931517127275" x2="276" y2="170.60931517127275" stroke="#555" stroke-width="1.0"/><line x1="273.5" y1="163.65371043857334" x2="276" y2="163.65371043857334" stroke="#555" stroke-width="1.0"/><line x1="273.5" y1="158.71863034254548" x2="276" y2="158.71863034254548" stroke="#555" stroke-width="1.0"/><line x1="273.5" y1="154.89068482872725" x2="276" y2="154.89068482872725" stroke="#555" stroke-width="1.0"/><line x1="273.5" y1="151.76302560984607" x2="276" y2="151.76302560984607" stroke="#555" stroke-width="1.0"/><line x1="273.5" y1="149.11862741943685" x2="276" y2="149.11862741943685" stroke="#555" stroke-width="1.0"/><line x1="273.5" y1="146.82794551381824" x2="276" y2="146.82794551381824" stroke="#555" stroke-width="1.0"/><line x1="273.5" y1="144.80742087714668" x2="276" y2="144.80742087714668" stroke="#555" stroke-width="1.0"/><line x1="273.5" y1="93.95116916346791" x2="276" y2="93.95116916346791" stroke="#555" stroke-width="1.0"/><line x1="271.5" y1="229.4" x2="276" y2="229.4" stroke="#111" stroke-width="1.0"/><line x1="271.5" y1="230.7" x2="276" y2="230.7" stroke="#111" stroke-width="1.0"/><line x1="271.5" y1="232" x2="276" y2="232" stroke="#111" stroke-width="1.0"/><line x1="271.5" y1="233.3" x2="276" y2="233.3" stroke="#111" stroke-width="1.0"/><line x1="271.5" y1="234.6" x2="276" y2="234.6" stroke="#111" stroke-width="1.0"/><line x1="273.5" y1="185.4" x2="276" y2="185.4" stroke="#444" stroke-width="1.0"/><line x1="273.5" y1="188" x2="276" y2="188" stroke="#444" stroke-width="1.0"/><line x1="273.5" y1="190.6" x2="276" y2="190.6" stroke="#444" stroke-width="1.0"/><line x1="273.5" y1="194.2" x2="276" y2="194.2" stroke="#444" stroke-width="1.0"/><line x1="273.5" y1="198.4" x2="276" y2="198.4" stroke="#444" stroke-width="1.0"/><line x1="273.5" y1="203.0" x2="276" y2="203.0" stroke="#444" stroke-width="1.0"/><line x1="273.5" y1="222.8" x2="276" y2="222.8" stroke="#444" stroke-width="1.0"/><line x1="273.5" y1="225.9" x2="276" y2="225.9" stroke="#444" stroke-width="1.0"/><line x1="273.5" y1="228" x2="276" y2="228" stroke="#444" stroke-width="1.0"/><line x1="273.5" y1="229.8" x2="276" y2="229.8" stroke="#444" stroke-width="1.0"/><line x1="273.5" y1="234.2" x2="276" y2="234.2" stroke="#444" stroke-width="1.0"/><line x1="273.5" y1="236.2" x2="276" y2="236.2" stroke="#444" stroke-width="1.0"/><line x1="273.5" y1="249" x2="276" y2="249" stroke="#444" stroke-width="1.0"/><line x1="273.5" y1="260" x2="276" y2="260" stroke="#444" stroke-width="1.0"/><line x1="273.5" y1="268" x2="276" y2="268" stroke="#444" stroke-width="1.0"/><line x1="271.5" y1="219.6" x2="276" y2="219.6" stroke="#333" stroke-width="1.2"/><line x1="271.5" y1="239.5" x2="276" y2="239.5" stroke="#333" stroke-width="1.2"/><line x1="128.5" y1="271" x2="128.5" y2="276" stroke="#333" stroke-width="1.5"/><line x1="177.6" y1="271" x2="177.6" y2="276" stroke="#333" stroke-width="1.5"/><line x1="221.3" y1="271" x2="221.3" y2="276" stroke="#333" stroke-width="1.5"/><line x1="143.28057278710148" y1="271" x2="143.28057278710148" y2="273.5" stroke="#555" stroke-width="1.0"/><line x1="151.9266536067354" y1="271" x2="151.9266536067354" y2="273.5" stroke="#555" stroke-width="1.0"/><line x1="158.06114557420295" y1="271" x2="158.06114557420295" y2="273.5" stroke="#555" stroke-width="1.0"/><line x1="162.81942721289852" y1="271" x2="162.81942721289852" y2="273.5" stroke="#555" stroke-width="1.0"/><line x1="166.7072263938369" y1="271" x2="166.7072263938369" y2="273.5" stroke="#555" stroke-width="1.0"/><line x1="169.9943137647" y1="271" x2="169.9943137647" y2="273.5" stroke="#555" stroke-width="1.0"/><line x1="172.84171836130443" y1="271" x2="172.84171836130443" y2="273.5" stroke="#555" stroke-width="1.0"/><line x1="175.35330721347086" y1="271" x2="175.35330721347086" y2="273.5" stroke="#555" stroke-width="1.0"/><line x1="190.75501081051598" y1="271" x2="190.75501081051598" y2="273.5" stroke="#555" stroke-width="1.0"/><line x1="198.45019883124925" y1="271" x2="198.45019883124925" y2="273.5" stroke="#555" stroke-width="1.0"/><line x1="203.91002162103197" y1="271" x2="203.91002162103197" y2="273.5" stroke="#555" stroke-width="1.0"/><line x1="208.14498918948402" y1="271" x2="208.14498918948402" y2="273.5" stroke="#555" stroke-width="1.0"/><line x1="211.60520964176524" y1="271" x2="211.60520964176524" y2="273.5" stroke="#555" stroke-width="1.0"/><line x1="214.53078434862303" y1="271" x2="214.53078434862303" y2="273.5" stroke="#555" stroke-width="1.0"/><line x1="217.06503243154793" y1="271" x2="217.06503243154793" y2="273.5" stroke="#555" stroke-width="1.0"/><line x1="219.3003976624985" y1="271" x2="219.3003976624985" y2="273.5" stroke="#555" stroke-width="1.0"/><line x1="68.8" y1="271" x2="68.8" y2="276" stroke="#333" stroke-width="1.5"/><line x1="95.3" y1="271" x2="95.3" y2="275" stroke="#111" stroke-width="1.0"/><line x1="96.6" y1="271" x2="96.6" y2="275" stroke="#111" stroke-width="1.0"/><line x1="97.9" y1="271" x2="97.9" y2="275" stroke="#111" stroke-width="1.0"/><line x1="99.2" y1="271" x2="99.2" y2="275" stroke="#111" stroke-width="1.0"/><line x1="100.5" y1="271" x2="100.5" y2="275" stroke="#111" stroke-width="1.0"/><line x1="101.8" y1="271" x2="101.8" y2="275" stroke="#111" stroke-width="1.0"/><line x1="73" y1="271" x2="73" y2="274" stroke="#444" stroke-width="1.0"/><line x1="77" y1="271" x2="77" y2="274" stroke="#444" stroke-width="1.0"/><line x1="81" y1="271" x2="81" y2="274" stroke="#444" stroke-width="1.0"/><line x1="85" y1="271" x2="85" y2="274" stroke="#444" stroke-width="1.0"/><line x1="89" y1="271" x2="89" y2="274" stroke="#444" stroke-width="1.0"/><line x1="92" y1="271" x2="92" y2="274" stroke="#444" stroke-width="1.0"/><line x1="95" y1="271" x2="95" y2="274" stroke="#444" stroke-width="1.0"/><line x1="102" y1="271" x2="102" y2="274" stroke="#444" stroke-width="1.0"/><line x1="105" y1="271" x2="105" y2="274" stroke="#444" stroke-width="1.0"/><line x1="109" y1="271" x2="109" y2="274" stroke="#444" stroke-width="1.0"/><line x1="113" y1="271" x2="113" y2="274" stroke="#444" stroke-width="1.0"/><line x1="117" y1="271" x2="117" y2="274" stroke="#444" stroke-width="1.0"/><line x1="121" y1="271" x2="121" y2="274" stroke="#444" stroke-width="1.0"/><line x1="124" y1="271" x2="124" y2="274" stroke="#444" stroke-width="1.0"/><line x1="233.5" y1="271" x2="233.5" y2="274" stroke="#444" stroke-width="1.0"/><line x1="348" y1="271" x2="348" y2="276" stroke="#333" stroke-width="1.5"/><line x1="394.5" y1="271" x2="394.5" y2="276" stroke="#333" stroke-width="1.5"/><line x1="439.2" y1="271" x2="439.2" y2="276" stroke="#333" stroke-width="1.5"/><line x1="361.9978947983751" y1="271" x2="361.9978947983751" y2="273.5" stroke="#555" stroke-width="1.0"/><line x1="370.1861383444643" y1="271" x2="370.1861383444643" y2="273.5" stroke="#555" stroke-width="1.0"/><line x1="375.9957895967502" y1="271" x2="375.9957895967502" y2="273.5" stroke="#555" stroke-width="1.0"/><line x1="380.5021052016249" y1="271" x2="380.5021052016249" y2="273.5" stroke="#555" stroke-width="1.0"/><line x1="384.18403314283944" y1="271" x2="384.18403314283944" y2="273.5" stroke="#555" stroke-width="1.0"/><line x1="387.29705886066296" y1="271" x2="387.29705886066296" y2="273.5" stroke="#555" stroke-width="1.0"/><line x1="389.9936843951254" y1="271" x2="389.9936843951254" y2="273.5" stroke="#555" stroke-width="1.0"/><line x1="392.3722766889286" y1="271" x2="392.3722766889286" y2="273.5" stroke="#555" stroke-width="1.0"/><line x1="407.95604080617994" y1="271" x2="407.95604080617994" y2="273.5" stroke="#555" stroke-width="1.0"/><line x1="415.8273200859689" y1="271" x2="415.8273200859689" y2="273.5" stroke="#555" stroke-width="1.0"/><line x1="421.4120816123599" y1="271" x2="421.4120816123599" y2="273.5" stroke="#555" stroke-width="1.0"/><line x1="425.74395919382005" y1="271" x2="425.74395919382005" y2="273.5" stroke="#555" stroke-width="1.0"/><line x1="429.28336089214883" y1="271" x2="429.28336089214883" y2="273.5" stroke="#555" stroke-width="1.0"/><line x1="432.2758823886373" y1="271" x2="432.2758823886373" y2="273.5" stroke="#555" stroke-width="1.0"/><line x1="434.8681224185399" y1="271" x2="434.8681224185399" y2="273.5" stroke="#555" stroke-width="1.0"/><line x1="437.1546401719378" y1="271" x2="437.1546401719378" y2="273.5" stroke="#555" stroke-width="1.0"/><line x1="287" y1="271" x2="287" y2="276" stroke="#333" stroke-width="1.5"/><line x1="313.3" y1="271" x2="313.3" y2="275" stroke="#111" stroke-width="1.0"/><line x1="314.6" y1="271" x2="314.6" y2="275" stroke="#111" stroke-width="1.0"/><line x1="315.9" y1="271" x2="315.9" y2="275" stroke="#111" stroke-width="1.0"/><line x1="317.2" y1="271" x2="317.2" y2="275" stroke="#111" stroke-width="1.0"/><line x1="318.5" y1="271" x2="318.5" y2="275" stroke="#111" stroke-width="1.0"/><line x1="319.8" y1="271" x2="319.8" y2="275" stroke="#111" stroke-width="1.0"/><line x1="291" y1="271" x2="291" y2="274" stroke="#444" stroke-width="1.0"/><line x1="295" y1="271" x2="295" y2="274" stroke="#444" stroke-width="1.0"/><line x1="299" y1="271" x2="299" y2="274" stroke="#444" stroke-width="1.0"/><line x1="303" y1="271" x2="303" y2="274" stroke="#444" stroke-width="1.0"/><line x1="307" y1="271" x2="307" y2="274" stroke="#444" stroke-width="1.0"/><line x1="310" y1="271" x2="310" y2="274" stroke="#444" stroke-width="1.0"/><line x1="313" y1="271" x2="313" y2="274" stroke="#444" stroke-width="1.0"/><line x1="320" y1="271" x2="320" y2="274" stroke="#444" stroke-width="1.0"/><line x1="323" y1="271" x2="323" y2="274" stroke="#444" stroke-width="1.0"/><line x1="327" y1="271" x2="327" y2="274" stroke="#444" stroke-width="1.0"/><line x1="331" y1="271" x2="331" y2="274" stroke="#444" stroke-width="1.0"/><line x1="335" y1="271" x2="335" y2="274" stroke="#444" stroke-width="1.0"/><line x1="339" y1="271" x2="339" y2="274" stroke="#444" stroke-width="1.0"/><line x1="343" y1="271" x2="343" y2="274" stroke="#444" stroke-width="1.0"/><line x1="451" y1="271" x2="451" y2="274" stroke="#444" stroke-width="1.0"/><text transform="translate(27.87,111.0) scale(1.1353,1)" font-size="12.5"  stroke="#111" stroke-width="0.1">10</text><text transform="translate(43.69,105.6) scale(1.0655,1)" font-size="9.7"  stroke="#111" stroke-width="0.1">5</text><text transform="translate(27.88,152.9) scale(1.1193,1)" font-size="12.5"  stroke="#111" stroke-width="0.1">10</text><text transform="translate(43.65,147.5) scale(1.1048,1)" font-size="9.7"  stroke="#111" stroke-width="0.1">4</text><text transform="translate(28.15,196.5) scale(1.0992,1)" font-size="12.5"  stroke="#111" stroke-width="0.1">10</text><text transform="translate(43.49,191.1) scale(1.1089,1)" font-size="9.7"  stroke="#111" stroke-width="0.1">3</text><text transform="translate(42.17,245.6) scale(1.0878,1)" font-size="12.5"  stroke="#111" stroke-width="0.1">0</text><text transform="translate(246.10,111.6) scale(1.0511,1)" font-size="12.5"  stroke="#111" stroke-width="0.1">10</text><text transform="translate(260.79,106.19999999999999) scale(1.0437,1)" font-size="9.7"  stroke="#111" stroke-width="0.1">5</text><text transform="translate(246.35,150.9) scale(1.0029,1)" font-size="12.5"  stroke="#111" stroke-width="0.1">10</text><text transform="translate(260.53,145.5) scale(1.2275,1)" font-size="9.7"  stroke="#111" stroke-width="0.1">4</text><text transform="translate(246.11,187.5) scale(1.0350,1)" font-size="12.5"  stroke="#111" stroke-width="0.1">10</text><text transform="translate(260.56,182.1) scale(1.1959,1)" font-size="9.7"  stroke="#111" stroke-width="0.1">3</text><text transform="translate(260.32,235.6) scale(0.9874,1)" font-size="12.5"  stroke="#111" stroke-width="0.1">0</text><text transform="translate(54.49,294.9) scale(1.1593,1)" font-size="12.5"  stroke="#111" stroke-width="0.1">−10</text><text transform="translate(79.23,289.5) scale(0.7176,1)" font-size="9.7"  stroke="#111" stroke-width="0.1">3</text><text transform="translate(95.27,294.9) scale(1.0878,1)" font-size="12.5"  stroke="#111" stroke-width="0.1">0</text><text transform="translate(119.19,294.9) scale(1.0591,1)" font-size="12.5"  stroke="#111" stroke-width="0.1">10</text><text transform="translate(133.97,289.5) scale(1.1742,1)" font-size="9.7"  stroke="#111" stroke-width="0.1">3</text><text transform="translate(167.74,294.9) scale(1.1153,1)" font-size="12.5"  stroke="#111" stroke-width="0.1">10</text><text transform="translate(183.46,289.5) scale(1.0843,1)" font-size="9.7"  stroke="#111" stroke-width="0.1">4</text><text transform="translate(212.16,294.9) scale(1.0912,1)" font-size="12.5"  stroke="#111" stroke-width="0.1">10</text><text transform="translate(227.38,289.5) scale(1.0872,1)" font-size="9.7"  stroke="#111" stroke-width="0.1">5</text><text transform="translate(270.08,294.9) scale(1.1642,1)" font-size="12.5"  stroke="#111" stroke-width="0.1">−10</text><text transform="translate(294.83,289.5) scale(1.0002,1)" font-size="9.7"  stroke="#111" stroke-width="0.1">3</text><text transform="translate(313.42,294.9) scale(1.0794,1)" font-size="12.5"  stroke="#111" stroke-width="0.1">0</text><text transform="translate(337.98,294.9) scale(1.0751,1)" font-size="12.5"  stroke="#111" stroke-width="0.1">10</text><text transform="translate(352.98,289.5) scale(1.1307,1)" font-size="9.7"  stroke="#111" stroke-width="0.1">3</text><text transform="translate(384.65,294.9) scale(1.0992,1)" font-size="12.5"  stroke="#111" stroke-width="0.1">10</text><text transform="translate(400.15,289.5) scale(1.1048,1)" font-size="9.7"  stroke="#111" stroke-width="0.1">4</text><text transform="translate(429.19,294.9) scale(1.0591,1)" font-size="12.5"  stroke="#111" stroke-width="0.1">10</text><text transform="translate(443.93,289.5) scale(1.2177,1)" font-size="9.7"  stroke="#111" stroke-width="0.1">5</text><text transform="translate(60.63,105.8) scale(1.1395,1)" font-size="12.5"  stroke="#111" stroke-width="0.1">Q3</text><text transform="translate(60.65,121.8) scale(1.1069,1)" font-size="12.5"  stroke="#111" stroke-width="0.1">9,55</text><text transform="translate(208.52,105.8) scale(1.1518,1)" font-size="12.5"  stroke="#111" stroke-width="0.1">Q2</text><text transform="translate(202.24,121.9) scale(1.0362,1)" font-size="12.5"  stroke="#111" stroke-width="0.1">61,7</text><text transform="translate(60.96,246.7) scale(1.0880,1)" font-size="12.5"  stroke="#111" stroke-width="0.1">Q4</text><text transform="translate(60.90,262.6) scale(1.1072,1)" font-size="12.5"  stroke="#111" stroke-width="0.1">22,0</text><text transform="translate(208.49,246.5) scale(1.0341,1)" font-size="12.5"  stroke="#111" stroke-width="0.1">Q1</text><text transform="translate(200.51,262.3) scale(1.0928,1)" font-size="12.5"  stroke="#111" stroke-width="0.1">6,68</text><text transform="translate(280.73,105.6) scale(1.1266,1)" font-size="12.5"  stroke="#111" stroke-width="0.1">Q3</text><text transform="translate(280.91,121.7) scale(1.0326,1)" font-size="12.5"  stroke="#111" stroke-width="0.1">3,41</text><text transform="translate(429.25,105.4) scale(1.0936,1)" font-size="12.5"  stroke="#111" stroke-width="0.1">Q2</text><text transform="translate(423.94,121.3) scale(0.9587,1)" font-size="12.5"  stroke="#111" stroke-width="0.1">37,0</text><text transform="translate(280.74,246.7) scale(1.1135,1)" font-size="12.5"  stroke="#111" stroke-width="0.1">Q4</text><text transform="translate(280.84,262.6) scale(1.1114,1)" font-size="12.5"  stroke="#111" stroke-width="0.1">55,5</text><text transform="translate(428.80,246.3) scale(1.0212,1)" font-size="12.5"  stroke="#111" stroke-width="0.1">Q1</text><text transform="translate(421.19,262.3) scale(1.0686,1)" font-size="12.5"  stroke="#111" stroke-width="0.1">4,14</text><line x1="20.6" y1="108" x2="20.6" y2="204.7" stroke="#000" stroke-width="1.4"/><path d="M20.6 97.4 L25.7 110.3 L20.6 107.8 L15.3 110.3 Z" fill="#000"/><text font-size="15.3" stroke="#111" stroke-width="0.4" transform="translate(24.4,268.5) rotate(-90)" textLength="28.0" lengthAdjust="spacingAndGlyphs">IFN-g</text><line x1="133" y1="308.5" x2="424" y2="308.5" stroke="#000" stroke-width="1.4"/><path d="M433.8 308.5 L420.8 303.4 L423.5 308.5 L420.8 313.6 Z" fill="#000"/><text x="62.2" y="313.8" font-size="16.2" stroke="#111" stroke-width="0.4" textLength="30.2" lengthAdjust="spacingAndGlyphs">TNF-a</text><text transform="translate(11.48,360.2) scale(1.0248,1)" font-size="19.2" font-weight="bold" stroke="#000" stroke-width="0.8">B</text><line x1="78.6" y1="373.5" x2="78.6" y2="541.9" stroke="#000" stroke-width="1.8"/><line x1="73.6" y1="540.9" x2="259.5" y2="540.9" stroke="#000" stroke-width="1.8"/><line x1="73.6" y1="378.1" x2="78.6" y2="378.1" stroke="#000" stroke-width="1.4"/><text transform="translate(44.75,383.1) scale(1.1163,1)" font-size="12.4"  stroke="#111" stroke-width="0.1">100</text><line x1="73.6" y1="410.70000000000005" x2="78.6" y2="410.70000000000005" stroke="#000" stroke-width="1.4"/><text transform="translate(52.08,415.7) scale(1.1434,1)" font-size="12.4"  stroke="#111" stroke-width="0.1">80</text><line x1="73.6" y1="443.3" x2="78.6" y2="443.3" stroke="#000" stroke-width="1.4"/><text transform="translate(51.97,448.3) scale(1.1516,1)" font-size="12.4"  stroke="#111" stroke-width="0.1">60</text><line x1="73.6" y1="475.90000000000003" x2="78.6" y2="475.90000000000003" stroke="#000" stroke-width="1.4"/><text transform="translate(52.38,480.9) scale(1.1210,1)" font-size="12.4"  stroke="#111" stroke-width="0.1">40</text><line x1="73.6" y1="508.5" x2="78.6" y2="508.5" stroke="#000" stroke-width="1.4"/><text transform="translate(52.51,513.5) scale(1.1116,1)" font-size="12.4"  stroke="#111" stroke-width="0.1">20</text><line x1="73.6" y1="541.1" x2="78.6" y2="541.1" stroke="#000" stroke-width="1.4"/><text transform="translate(60.27,546.1) scale(1.0966,1)" font-size="12.4"  stroke="#111" stroke-width="0.1">0</text><line x1="130.3" y1="419.9" x2="130.3" y2="463.5" stroke="#000" stroke-width="1.5"/><line x1="117.80000000000001" y1="419.9" x2="142.8" y2="419.9" stroke="#000" stroke-width="1.6"/><line x1="117.80000000000001" y1="463.5" x2="142.8" y2="463.5" stroke="#000" stroke-width="1.6"/><rect x="106" y="423.7" width="49" height="36.0" fill="#c0021f" /><line x1="106" y1="444.9" x2="155" y2="444.9" stroke="#5a0610" stroke-width="1.8"/><line x1="130.3" y1="541" x2="130.3" y2="546" stroke="#000" stroke-width="1.4"/><text transform="translate(110.85,562.8) scale(1.0305,1)" font-size="12.4"  stroke="#111" stroke-width="0.1">No-VR</text><line x1="207.5" y1="431.8" x2="207.5" y2="530.5" stroke="#000" stroke-width="1.5"/><line x1="195.0" y1="431.8" x2="220.0" y2="431.8" stroke="#000" stroke-width="1.6"/><line x1="195.0" y1="530.5" x2="220.0" y2="530.5" stroke="#000" stroke-width="1.6"/><rect x="183.1" y="476.5" width="48.900000000000006" height="42.10000000000002" fill="#f39200" /><line x1="183.1" y1="505.1" x2="232" y2="505.1" stroke="#3a2000" stroke-width="1.8"/><line x1="207.5" y1="541" x2="207.5" y2="546" stroke="#000" stroke-width="1.4"/><text transform="translate(181.73,562.8) scale(1.0649,1)" font-size="12.4"  stroke="#111" stroke-width="0.1">CMV-VR</text><text font-size="14.2" stroke="#111" stroke-width="0.35" transform="translate(34.1,534.8) rotate(-90)" textLength="154.5" lengthAdjust="spacingAndGlyphs">%IFNg-producing Vd2+ T cells</text><line x1="132.4" y1="389.1" x2="218.2" y2="389.1" stroke="#000" stroke-width="1.5"/><text x="175.3" y="388.0" font-size="10" text-anchor="middle">*</text><line x1="327.8" y1="373.5" x2="327.8" y2="541.9" stroke="#000" stroke-width="1.8"/><line x1="322.8" y1="540.9" x2="508.5" y2="540.9" stroke="#000" stroke-width="1.8"/><line x1="322.8" y1="378.1" x2="327.8" y2="378.1" stroke="#000" stroke-width="1.4"/><text transform="translate(293.92,383.1) scale(1.0955,1)" font-size="12.4"  stroke="#111" stroke-width="0.1">100</text><line x1="322.8" y1="410.70000000000005" x2="327.8" y2="410.70000000000005" stroke="#000" stroke-width="1.4"/><text transform="translate(301.51,415.7) scale(1.0925,1)" font-size="12.4"  stroke="#111" stroke-width="0.1">80</text><line x1="322.8" y1="443.3" x2="327.8" y2="443.3" stroke="#000" stroke-width="1.4"/><text transform="translate(301.41,448.3) scale(1.1003,1)" font-size="12.4"  stroke="#111" stroke-width="0.1">60</text><line x1="322.8" y1="475.90000000000003" x2="327.8" y2="475.90000000000003" stroke="#000" stroke-width="1.4"/><text transform="translate(301.80,480.9) scale(1.0711,1)" font-size="12.4"  stroke="#111" stroke-width="0.1">40</text><line x1="322.8" y1="508.5" x2="327.8" y2="508.5" stroke="#000" stroke-width="1.4"/><text transform="translate(301.73,513.5) scale(1.0761,1)" font-size="12.4"  stroke="#111" stroke-width="0.1">20</text><line x1="322.8" y1="541.1" x2="327.8" y2="541.1" stroke="#000" stroke-width="1.4"/><text transform="translate(309.51,546.1) scale(1.0207,1)" font-size="12.4"  stroke="#111" stroke-width="0.1">0</text><line x1="378.5" y1="435.6" x2="378.5" y2="494.1" stroke="#000" stroke-width="1.5"/><line x1="366.0" y1="435.6" x2="391.0" y2="435.6" stroke="#000" stroke-width="1.6"/><line x1="366.0" y1="494.1" x2="391.0" y2="494.1" stroke="#000" stroke-width="1.6"/><rect x="354.1" y="439.7" width="48.69999999999999" height="25.600000000000023" fill="#c0021f" /><line x1="354.1" y1="463.6" x2="402.8" y2="463.6" stroke="#5a0610" stroke-width="1.8"/><line x1="378.5" y1="541" x2="378.5" y2="546" stroke="#000" stroke-width="1.4"/><text transform="translate(359.35,562.8) scale(1.0361,1)" font-size="12.4"  stroke="#111" stroke-width="0.1">No-VR</text><line x1="455" y1="413" x2="455" y2="534.8" stroke="#000" stroke-width="1.5"/><line x1="442.5" y1="413" x2="467.5" y2="413" stroke="#000" stroke-width="1.6"/><line x1="442.5" y1="534.8" x2="467.5" y2="534.8" stroke="#000" stroke-width="1.6"/><rect x="430.5" y="472" width="49.0" height="56.200000000000045" fill="#f39200" /><line x1="430.5" y1="513.5" x2="479.5" y2="513.5" stroke="#3a2000" stroke-width="1.8"/><line x1="455" y1="541" x2="455" y2="546" stroke="#000" stroke-width="1.4"/><text transform="translate(430.04,562.8) scale(1.0481,1)" font-size="12.4"  stroke="#111" stroke-width="0.1">CMV-VR</text><text font-size="14.2" stroke="#111" stroke-width="0.35" transform="translate(283.3,533.5) rotate(-90)" textLength="152" lengthAdjust="spacingAndGlyphs">% TNFa-producing Vd2 T cells</text>
</svg>
</body></html>
